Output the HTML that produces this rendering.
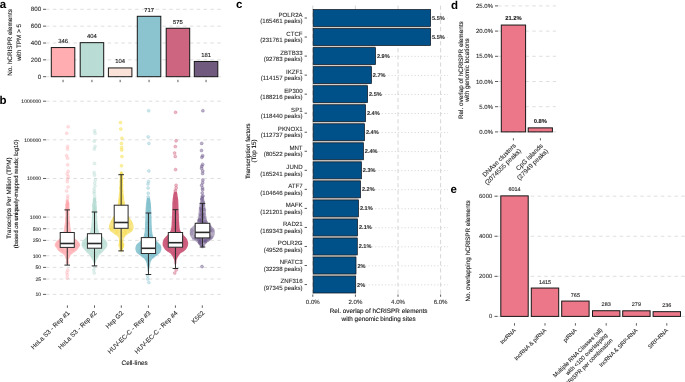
<!DOCTYPE html>
<html><head><meta charset="utf-8"><style>
html,body{margin:0;padding:0;background:#fff;width:685px;height:382px;overflow:hidden}
svg{display:block;font-family:"Liberation Sans",sans-serif;text-rendering:geometricPrecision;filter:blur(0.3px)}
</style></head><body>
<svg width="685" height="382" viewBox="0 0 685 382">
<rect width="685" height="382" fill="#fff"/>
<text x="-0.3" y="7.8" font-size="11.5" font-weight="bold" fill="#000">a</text>
<line x1="46" y1="76.70" x2="221" y2="76.70" stroke="#d6d6d6" stroke-width="0.8" stroke-dasharray="3.5 3.35"/>
<line x1="46" y1="59.85" x2="221" y2="59.85" stroke="#d6d6d6" stroke-width="0.8" stroke-dasharray="3.5 3.35"/>
<line x1="46" y1="43.00" x2="221" y2="43.00" stroke="#d6d6d6" stroke-width="0.8" stroke-dasharray="3.5 3.35"/>
<line x1="46" y1="26.15" x2="221" y2="26.15" stroke="#d6d6d6" stroke-width="0.8" stroke-dasharray="3.5 3.35"/>
<line x1="46" y1="9.30" x2="221" y2="9.30" stroke="#d6d6d6" stroke-width="0.8" stroke-dasharray="3.5 3.35"/>
<text x="41.20" y="78.87" font-size="6.2" text-anchor="end" fill="#2e2e2e" font-weight="normal" stroke="#2e2e2e" stroke-width="0.1" >0</text>
<line x1="43" y1="76.70" x2="46" y2="76.70" stroke="#333333" stroke-width="0.8"/>
<text x="41.20" y="62.02" font-size="6.2" text-anchor="end" fill="#2e2e2e" font-weight="normal" stroke="#2e2e2e" stroke-width="0.1" >200</text>
<line x1="43" y1="59.85" x2="46" y2="59.85" stroke="#333333" stroke-width="0.8"/>
<text x="41.20" y="45.17" font-size="6.2" text-anchor="end" fill="#2e2e2e" font-weight="normal" stroke="#2e2e2e" stroke-width="0.1" >400</text>
<line x1="43" y1="43.00" x2="46" y2="43.00" stroke="#333333" stroke-width="0.8"/>
<text x="41.20" y="28.32" font-size="6.2" text-anchor="end" fill="#2e2e2e" font-weight="normal" stroke="#2e2e2e" stroke-width="0.1" >600</text>
<line x1="43" y1="26.15" x2="46" y2="26.15" stroke="#333333" stroke-width="0.8"/>
<text x="41.20" y="11.47" font-size="6.2" text-anchor="end" fill="#2e2e2e" font-weight="normal" stroke="#2e2e2e" stroke-width="0.1" >800</text>
<line x1="43" y1="9.30" x2="46" y2="9.30" stroke="#333333" stroke-width="0.8"/>
<rect x="51.30" y="47.55" width="23.50" height="29.15" fill="#ffadb0" stroke="#161616" stroke-width="1.0"/>
<text x="63.05" y="42.85" font-size="5.9" text-anchor="middle" fill="#111111" font-weight="normal" stroke="#111111" stroke-width="0.1" >346</text>
<line x1="63.05" y1="79.8" x2="63.05" y2="82.2" stroke="#333333" stroke-width="0.8"/>
<rect x="80.20" y="42.66" width="23.50" height="34.04" fill="#b9ddd4" stroke="#161616" stroke-width="1.0"/>
<text x="91.95" y="37.96" font-size="5.9" text-anchor="middle" fill="#111111" font-weight="normal" stroke="#111111" stroke-width="0.1" >404</text>
<line x1="91.95" y1="79.8" x2="91.95" y2="82.2" stroke="#333333" stroke-width="0.8"/>
<rect x="108.40" y="67.94" width="23.50" height="8.76" fill="#fae2d8" stroke="#161616" stroke-width="1.0"/>
<text x="120.15" y="63.24" font-size="5.9" text-anchor="middle" fill="#111111" font-weight="normal" stroke="#111111" stroke-width="0.1" >104</text>
<line x1="120.15" y1="79.8" x2="120.15" y2="82.2" stroke="#333333" stroke-width="0.8"/>
<rect x="137.30" y="16.29" width="23.50" height="60.41" fill="#8bc3cf" stroke="#161616" stroke-width="1.0"/>
<text x="149.05" y="11.59" font-size="5.9" text-anchor="middle" fill="#111111" font-weight="normal" stroke="#111111" stroke-width="0.1" >717</text>
<line x1="149.05" y1="79.8" x2="149.05" y2="82.2" stroke="#333333" stroke-width="0.8"/>
<rect x="166.20" y="28.26" width="23.50" height="48.44" fill="#ce6580" stroke="#161616" stroke-width="1.0"/>
<text x="177.95" y="23.56" font-size="5.9" text-anchor="middle" fill="#111111" font-weight="normal" stroke="#111111" stroke-width="0.1" >575</text>
<line x1="177.95" y1="79.8" x2="177.95" y2="82.2" stroke="#333333" stroke-width="0.8"/>
<rect x="194.30" y="61.45" width="23.50" height="15.25" fill="#705a7d" stroke="#161616" stroke-width="1.0"/>
<text x="206.05" y="56.75" font-size="5.9" text-anchor="middle" fill="#111111" font-weight="normal" stroke="#111111" stroke-width="0.1" >181</text>
<line x1="206.05" y1="79.8" x2="206.05" y2="82.2" stroke="#333333" stroke-width="0.8"/>
<g transform="translate(12.20,42.50) rotate(-90)">
<text x="0" y="0.00" font-size="6.35" text-anchor="middle" fill="#111111" stroke="#111111" stroke-width="0.1">No. hCRISPR elements</text>
</g>
<g transform="translate(21.00,42.50) rotate(-90)">
<text x="0" y="0.00" font-size="6.35" text-anchor="middle" fill="#111111" stroke="#111111" stroke-width="0.1">with TPM &gt; 5</text>
</g>
<text x="-0.6" y="104.2" font-size="11.5" font-weight="bold" fill="#000">b</text>
<line x1="46" y1="294.40" x2="221" y2="294.40" stroke="#d6d6d6" stroke-width="0.8" stroke-dasharray="3.5 3.35"/>
<line x1="46" y1="279.02" x2="221" y2="279.02" stroke="#d6d6d6" stroke-width="0.8" stroke-dasharray="3.5 3.35"/>
<line x1="46" y1="267.39" x2="221" y2="267.39" stroke="#d6d6d6" stroke-width="0.8" stroke-dasharray="3.5 3.35"/>
<line x1="46" y1="255.76" x2="221" y2="255.76" stroke="#d6d6d6" stroke-width="0.8" stroke-dasharray="3.5 3.35"/>
<line x1="46" y1="240.38" x2="221" y2="240.38" stroke="#d6d6d6" stroke-width="0.8" stroke-dasharray="3.5 3.35"/>
<line x1="46" y1="228.75" x2="221" y2="228.75" stroke="#d6d6d6" stroke-width="0.8" stroke-dasharray="3.5 3.35"/>
<line x1="46" y1="217.12" x2="221" y2="217.12" stroke="#d6d6d6" stroke-width="0.8" stroke-dasharray="3.5 3.35"/>
<line x1="46" y1="178.48" x2="221" y2="178.48" stroke="#d6d6d6" stroke-width="0.8" stroke-dasharray="3.5 3.35"/>
<line x1="46" y1="139.84" x2="221" y2="139.84" stroke="#d6d6d6" stroke-width="0.8" stroke-dasharray="3.5 3.35"/>
<line x1="46" y1="101.20" x2="221" y2="101.20" stroke="#d6d6d6" stroke-width="0.8" stroke-dasharray="3.5 3.35"/>
<text x="41.20" y="296.19" font-size="5.1" text-anchor="end" fill="#2e2e2e" font-weight="normal" stroke="#2e2e2e" stroke-width="0.1" >10</text>
<line x1="43" y1="294.40" x2="46" y2="294.40" stroke="#333333" stroke-width="0.8"/>
<text x="41.20" y="280.81" font-size="5.1" text-anchor="end" fill="#2e2e2e" font-weight="normal" stroke="#2e2e2e" stroke-width="0.1" >25</text>
<line x1="43" y1="279.02" x2="46" y2="279.02" stroke="#333333" stroke-width="0.8"/>
<text x="41.20" y="269.18" font-size="5.1" text-anchor="end" fill="#2e2e2e" font-weight="normal" stroke="#2e2e2e" stroke-width="0.1" >50</text>
<line x1="43" y1="267.39" x2="46" y2="267.39" stroke="#333333" stroke-width="0.8"/>
<text x="41.20" y="257.55" font-size="5.1" text-anchor="end" fill="#2e2e2e" font-weight="normal" stroke="#2e2e2e" stroke-width="0.1" >100</text>
<line x1="43" y1="255.76" x2="46" y2="255.76" stroke="#333333" stroke-width="0.8"/>
<text x="41.20" y="242.17" font-size="5.1" text-anchor="end" fill="#2e2e2e" font-weight="normal" stroke="#2e2e2e" stroke-width="0.1" >250</text>
<line x1="43" y1="240.38" x2="46" y2="240.38" stroke="#333333" stroke-width="0.8"/>
<text x="41.20" y="230.54" font-size="5.1" text-anchor="end" fill="#2e2e2e" font-weight="normal" stroke="#2e2e2e" stroke-width="0.1" >500</text>
<line x1="43" y1="228.75" x2="46" y2="228.75" stroke="#333333" stroke-width="0.8"/>
<text x="41.20" y="218.90" font-size="5.1" text-anchor="end" fill="#2e2e2e" font-weight="normal" stroke="#2e2e2e" stroke-width="0.1" >1000</text>
<line x1="43" y1="217.12" x2="46" y2="217.12" stroke="#333333" stroke-width="0.8"/>
<text x="41.20" y="180.26" font-size="5.1" text-anchor="end" fill="#2e2e2e" font-weight="normal" stroke="#2e2e2e" stroke-width="0.1" >10000</text>
<line x1="43" y1="178.48" x2="46" y2="178.48" stroke="#333333" stroke-width="0.8"/>
<text x="41.20" y="141.62" font-size="5.1" text-anchor="end" fill="#2e2e2e" font-weight="normal" stroke="#2e2e2e" stroke-width="0.1" >100000</text>
<line x1="43" y1="139.84" x2="46" y2="139.84" stroke="#333333" stroke-width="0.8"/>
<text x="41.20" y="102.98" font-size="5.1" text-anchor="end" fill="#2e2e2e" font-weight="normal" stroke="#2e2e2e" stroke-width="0.1" >1000000</text>
<line x1="43" y1="101.20" x2="46" y2="101.20" stroke="#333333" stroke-width="0.8"/>
<polygon points="68.20,200.00 68.34,200.52 68.56,201.22 68.80,202.06 69.04,203.00 69.26,203.99 69.40,205.00 69.47,206.04 69.48,207.15 69.46,208.31 69.42,209.52 69.40,210.75 69.40,212.00 69.43,213.29 69.46,214.63 69.51,216.00 69.56,217.37 69.62,218.71 69.70,220.00 69.79,221.25 69.89,222.48 70.01,223.69 70.13,224.85 70.26,225.96 70.40,227.00 70.54,227.96 70.69,228.85 70.85,229.69 71.02,230.48 71.20,231.25 71.40,232.00 71.61,232.74 71.83,233.44 72.06,234.12 72.31,234.78 72.59,235.40 72.90,236.00 73.26,236.57 73.66,237.11 74.08,237.62 74.52,238.10 74.97,238.56 75.40,239.00 75.84,239.40 76.30,239.77 76.77,240.12 77.22,240.45 77.63,240.77 78.00,241.10 78.31,241.42 78.58,241.73 78.82,242.02 79.03,242.33 79.22,242.65 79.40,243.00 79.58,243.38 79.77,243.79 79.94,244.21 80.07,244.64 80.13,245.08 80.10,245.50 79.96,245.91 79.73,246.31 79.44,246.72 79.10,247.13 78.75,247.55 78.40,248.00 78.08,248.46 77.78,248.94 77.46,249.42 77.09,249.93 76.65,250.45 76.10,251.00 75.39,251.58 74.52,252.18 73.58,252.81 72.64,253.44 71.79,254.08 71.10,254.70 70.59,255.32 70.20,255.94 69.90,256.56 69.65,257.17 69.43,257.79 69.20,258.40 68.98,259.01 68.78,259.63 68.61,260.24 68.46,260.85 68.33,261.44 68.20,262.00 68.08,262.57 67.98,263.16 67.89,263.73 67.81,264.24 67.75,264.68 67.70,265.00 67.10,265.00 67.05,264.68 66.99,264.24 66.91,263.73 66.82,263.16 66.72,262.57 66.60,262.00 66.47,261.44 66.34,260.85 66.19,260.24 66.02,259.63 65.82,259.01 65.60,258.40 65.37,257.79 65.15,257.17 64.90,256.56 64.60,255.94 64.21,255.32 63.70,254.70 63.01,254.08 62.16,253.44 61.23,252.81 60.28,252.18 59.41,251.58 58.70,251.00 58.15,250.45 57.71,249.93 57.34,249.42 57.02,248.94 56.72,248.46 56.40,248.00 56.05,247.55 55.70,247.13 55.36,246.72 55.07,246.31 54.84,245.91 54.70,245.50 54.67,245.08 54.73,244.64 54.86,244.21 55.03,243.79 55.22,243.38 55.40,243.00 55.58,242.65 55.77,242.33 55.98,242.02 56.22,241.73 56.49,241.42 56.80,241.10 57.17,240.77 57.58,240.45 58.03,240.12 58.50,239.77 58.96,239.40 59.40,239.00 59.83,238.56 60.28,238.10 60.72,237.62 61.14,237.11 61.54,236.57 61.90,236.00 62.21,235.40 62.49,234.78 62.74,234.12 62.97,233.44 63.19,232.74 63.40,232.00 63.60,231.25 63.78,230.48 63.95,229.69 64.11,228.85 64.26,227.96 64.40,227.00 64.54,225.96 64.67,224.85 64.79,223.69 64.91,222.48 65.01,221.25 65.10,220.00 65.18,218.71 65.24,217.37 65.29,216.00 65.34,214.63 65.37,213.29 65.40,212.00 65.40,210.75 65.38,209.52 65.34,208.31 65.32,207.15 65.33,206.04 65.40,205.00 65.54,203.99 65.76,203.00 66.00,202.06 66.24,201.22 66.46,200.52 66.60,200.00" fill="#ffadb0" fill-opacity="0.8" stroke="none"/>
<polygon points="95.70,198.00 95.82,198.76 95.99,199.81 96.19,201.06 96.39,202.41 96.57,203.75 96.70,205.00 96.78,206.15 96.82,207.27 96.84,208.39 96.85,209.54 96.86,210.73 96.90,212.00 96.95,213.36 97.00,214.80 97.06,216.29 97.13,217.80 97.21,219.28 97.30,220.70 97.40,222.09 97.50,223.49 97.61,224.86 97.74,226.18 97.90,227.44 98.10,228.60 98.35,229.68 98.65,230.71 98.97,231.67 99.32,232.54 99.66,233.33 100.00,234.00 100.32,234.52 100.64,234.88 100.96,235.15 101.29,235.39 101.64,235.65 102.00,236.00 102.40,236.45 102.82,236.96 103.26,237.50 103.70,238.04 104.12,238.55 104.50,239.00 104.85,239.37 105.17,239.67 105.48,239.94 105.77,240.22 106.04,240.56 106.30,241.00 106.57,241.56 106.84,242.22 107.11,242.94 107.32,243.67 107.46,244.37 107.50,245.00 107.43,245.54 107.27,246.03 107.04,246.49 106.75,246.95 106.40,247.44 106.00,248.00 105.53,248.65 104.96,249.36 104.34,250.11 103.70,250.86 103.08,251.57 102.50,252.20 101.95,252.75 101.40,253.26 100.86,253.72 100.36,254.16 99.90,254.58 99.50,255.00 99.20,255.38 98.98,255.72 98.81,256.04 98.64,256.37 98.45,256.75 98.20,257.20 97.86,257.74 97.46,258.34 97.03,258.99 96.61,259.66 96.22,260.34 95.90,261.00 95.65,261.70 95.43,262.47 95.26,263.24 95.11,263.96 94.99,264.56 94.90,265.00 94.10,265.00 94.01,264.56 93.89,263.96 93.74,263.24 93.57,262.47 93.35,261.70 93.10,261.00 92.78,260.34 92.39,259.66 91.97,258.99 91.54,258.34 91.14,257.74 90.80,257.20 90.55,256.75 90.36,256.37 90.19,256.04 90.02,255.72 89.80,255.38 89.50,255.00 89.10,254.58 88.64,254.16 88.14,253.72 87.60,253.26 87.05,252.75 86.50,252.20 85.92,251.57 85.30,250.86 84.66,250.11 84.04,249.36 83.47,248.65 83.00,248.00 82.60,247.44 82.25,246.95 81.96,246.49 81.73,246.03 81.57,245.54 81.50,245.00 81.54,244.37 81.68,243.67 81.89,242.94 82.16,242.22 82.43,241.56 82.70,241.00 82.96,240.56 83.23,240.22 83.52,239.94 83.83,239.67 84.15,239.37 84.50,239.00 84.88,238.55 85.30,238.04 85.74,237.50 86.18,236.96 86.60,236.45 87.00,236.00 87.36,235.65 87.71,235.39 88.04,235.15 88.36,234.88 88.68,234.52 89.00,234.00 89.34,233.33 89.68,232.54 90.03,231.67 90.35,230.71 90.65,229.68 90.90,228.60 91.10,227.44 91.26,226.18 91.39,224.86 91.50,223.49 91.60,222.09 91.70,220.70 91.79,219.28 91.87,217.80 91.94,216.29 92.00,214.80 92.05,213.36 92.10,212.00 92.14,210.73 92.15,209.54 92.16,208.39 92.18,207.27 92.22,206.15 92.30,205.00 92.43,203.75 92.61,202.41 92.81,201.06 93.01,199.81 93.18,198.76 93.30,198.00" fill="#b9ddd4" fill-opacity="0.8" stroke="none"/>
<polygon points="121.90,172.00 122.00,172.58 122.15,173.33 122.32,174.25 122.50,175.33 122.66,176.58 122.80,178.00 122.90,179.68 122.98,181.64 123.04,183.77 123.11,185.95 123.19,188.06 123.30,190.00 123.44,191.79 123.60,193.53 123.77,195.21 123.95,196.80 124.13,198.31 124.30,199.70 124.46,200.93 124.60,201.99 124.74,202.96 124.89,203.90 125.08,204.89 125.30,206.00 125.56,207.27 125.86,208.67 126.17,210.11 126.52,211.52 126.90,212.84 127.30,214.00 127.75,214.98 128.26,215.83 128.80,216.59 129.34,217.28 129.85,217.94 130.30,218.60 130.70,219.22 131.06,219.76 131.40,220.27 131.71,220.79 132.01,221.35 132.30,222.00 132.60,222.75 132.91,223.59 133.21,224.46 133.46,225.35 133.64,226.21 133.70,227.00 133.66,227.74 133.54,228.44 133.34,229.12 133.06,229.78 132.72,230.40 132.30,231.00 131.78,231.55 131.16,232.06 130.46,232.54 129.73,233.01 129.00,233.49 128.30,234.00 127.60,234.53 126.86,235.06 126.11,235.60 125.41,236.16 124.79,236.76 124.30,237.40 123.94,238.11 123.67,238.89 123.49,239.71 123.37,240.52 123.32,241.29 123.30,242.00 123.38,242.62 123.59,243.17 123.85,243.69 124.10,244.20 124.27,244.73 124.30,245.30 124.15,245.94 123.87,246.63 123.52,247.34 123.14,248.03 122.78,248.66 122.50,249.20 122.29,249.64 122.10,250.02 121.94,250.34 121.80,250.61 121.69,250.83 121.60,251.00 121.00,251.00 120.91,250.83 120.80,250.61 120.66,250.34 120.50,250.02 120.31,249.64 120.10,249.20 119.82,248.66 119.46,248.03 119.08,247.34 118.73,246.63 118.45,245.94 118.30,245.30 118.33,244.73 118.50,244.20 118.75,243.69 119.01,243.17 119.22,242.62 119.30,242.00 119.28,241.29 119.23,240.52 119.11,239.71 118.93,238.89 118.66,238.11 118.30,237.40 117.81,236.76 117.19,236.16 116.49,235.60 115.74,235.06 115.00,234.53 114.30,234.00 113.60,233.49 112.87,233.01 112.14,232.54 111.44,232.06 110.82,231.55 110.30,231.00 109.88,230.40 109.54,229.78 109.26,229.12 109.06,228.44 108.94,227.74 108.90,227.00 108.96,226.21 109.14,225.35 109.39,224.46 109.69,223.59 110.00,222.75 110.30,222.00 110.59,221.35 110.89,220.79 111.20,220.27 111.54,219.76 111.90,219.22 112.30,218.60 112.75,217.94 113.26,217.28 113.80,216.59 114.34,215.83 114.85,214.98 115.30,214.00 115.70,212.84 116.08,211.52 116.42,210.11 116.74,208.67 117.04,207.27 117.30,206.00 117.52,204.89 117.71,203.90 117.86,202.96 118.00,201.99 118.14,200.93 118.30,199.70 118.47,198.31 118.65,196.80 118.83,195.21 119.00,193.53 119.16,191.79 119.30,190.00 119.41,188.06 119.49,185.95 119.56,183.77 119.62,181.64 119.70,179.68 119.80,178.00 119.94,176.58 120.10,175.33 120.28,174.25 120.45,173.33 120.60,172.58 120.70,172.00" fill="#f5dc55" fill-opacity="0.7" stroke="none"/>
<polygon points="149.90,198.00 150.01,198.73 150.18,199.70 150.37,200.88 150.57,202.19 150.75,203.58 150.90,205.00 151.01,206.49 151.11,208.11 151.19,209.81 151.27,211.56 151.33,213.30 151.40,215.00 151.46,216.70 151.51,218.44 151.55,220.19 151.59,221.89 151.64,223.51 151.70,225.00 151.76,226.36 151.83,227.63 151.89,228.81 151.97,229.93 152.07,230.98 152.20,232.00 152.34,232.96 152.48,233.85 152.64,234.69 152.84,235.48 153.09,236.25 153.40,237.00 153.78,237.73 154.23,238.41 154.72,239.08 155.26,239.72 155.82,240.36 156.40,241.00 157.04,241.64 157.77,242.27 158.53,242.89 159.25,243.51 159.90,244.15 160.40,244.80 160.77,245.48 161.05,246.18 161.24,246.89 161.36,247.60 161.41,248.31 161.40,249.00 161.32,249.69 161.18,250.39 160.96,251.07 160.68,251.75 160.32,252.39 159.90,253.00 159.37,253.56 158.73,254.07 158.03,254.56 157.29,255.04 156.57,255.51 155.90,256.00 155.27,256.50 154.63,257.00 154.01,257.50 153.42,258.00 152.88,258.50 152.40,259.00 151.99,259.48 151.65,259.93 151.35,260.39 151.09,260.87 150.84,261.40 150.60,262.00 150.37,262.69 150.16,263.45 149.97,264.26 149.80,265.10 149.65,265.96 149.50,266.80 149.36,267.70 149.24,268.70 149.13,269.70 149.04,270.64 148.96,271.43 148.90,272.00 147.90,272.00 147.84,271.43 147.76,270.64 147.67,269.70 147.56,268.70 147.44,267.70 147.30,266.80 147.15,265.96 147.00,265.10 146.83,264.26 146.64,263.45 146.43,262.69 146.20,262.00 145.96,261.40 145.71,260.87 145.45,260.39 145.15,259.93 144.81,259.48 144.40,259.00 143.92,258.50 143.38,258.00 142.79,257.50 142.17,257.00 141.53,256.50 140.90,256.00 140.23,255.51 139.51,255.04 138.78,254.56 138.07,254.07 137.43,253.56 136.90,253.00 136.48,252.39 136.12,251.75 135.84,251.07 135.62,250.39 135.48,249.69 135.40,249.00 135.39,248.31 135.44,247.60 135.56,246.89 135.75,246.18 136.03,245.48 136.40,244.80 136.90,244.15 137.55,243.51 138.28,242.89 139.03,242.27 139.76,241.64 140.40,241.00 140.98,240.36 141.54,239.72 142.08,239.08 142.57,238.41 143.02,237.73 143.40,237.00 143.71,236.25 143.96,235.48 144.16,234.69 144.32,233.85 144.46,232.96 144.60,232.00 144.73,230.98 144.83,229.93 144.91,228.81 144.97,227.63 145.04,226.36 145.10,225.00 145.16,223.51 145.21,221.89 145.25,220.19 145.29,218.44 145.34,216.70 145.40,215.00 145.47,213.30 145.53,211.56 145.61,209.81 145.69,208.11 145.79,206.49 145.90,205.00 146.05,203.58 146.23,202.19 146.43,200.88 146.62,199.70 146.79,198.73 146.90,198.00" fill="#7fbfcc" fill-opacity="0.85" stroke="none"/>
<polygon points="176.90,192.00 177.05,192.85 177.27,194.00 177.53,195.38 177.79,196.89 178.02,198.46 178.20,200.00 178.32,201.55 178.40,203.19 178.46,204.88 178.50,206.59 178.54,208.31 178.60,210.00 178.66,211.69 178.73,213.41 178.79,215.12 178.85,216.81 178.92,218.45 179.00,220.00 179.08,221.50 179.16,222.96 179.24,224.38 179.34,225.70 179.46,226.92 179.60,228.00 179.75,228.90 179.90,229.63 180.07,230.25 180.28,230.81 180.55,231.38 180.90,232.00 181.37,232.68 181.94,233.37 182.58,234.06 183.23,234.74 183.85,235.39 184.40,236.00 184.89,236.55 185.35,237.04 185.79,237.50 186.19,237.96 186.56,238.45 186.90,239.00 187.21,239.61 187.50,240.26 187.76,240.94 187.97,241.63 188.12,242.32 188.20,243.00 188.21,243.67 188.16,244.35 188.04,245.03 187.88,245.70 187.66,246.36 187.40,247.00 187.09,247.62 186.73,248.22 186.33,248.81 185.87,249.39 185.36,249.95 184.80,250.50 184.15,251.02 183.40,251.52 182.59,252.00 181.79,252.48 181.04,252.98 180.40,253.50 179.86,254.06 179.38,254.65 178.96,255.25 178.57,255.85 178.23,256.44 177.90,257.00 177.61,257.51 177.36,257.96 177.14,258.41 176.95,258.87 176.77,259.39 176.60,260.00 176.43,260.78 176.27,261.70 176.12,262.69 175.99,263.63 175.88,264.43 175.80,265.00 175.00,265.00 174.92,264.43 174.81,263.63 174.68,262.69 174.53,261.70 174.37,260.78 174.20,260.00 174.03,259.39 173.85,258.87 173.66,258.41 173.44,257.96 173.19,257.51 172.90,257.00 172.57,256.44 172.23,255.85 171.84,255.25 171.42,254.65 170.94,254.06 170.40,253.50 169.76,252.98 169.01,252.48 168.21,252.00 167.40,251.52 166.65,251.02 166.00,250.50 165.44,249.95 164.93,249.39 164.47,248.81 164.07,248.22 163.71,247.62 163.40,247.00 163.14,246.36 162.92,245.70 162.76,245.03 162.64,244.35 162.59,243.67 162.60,243.00 162.68,242.32 162.83,241.63 163.04,240.94 163.30,240.26 163.59,239.61 163.90,239.00 164.24,238.45 164.61,237.96 165.01,237.50 165.45,237.04 165.91,236.55 166.40,236.00 166.95,235.39 167.57,234.74 168.22,234.06 168.86,233.37 169.43,232.68 169.90,232.00 170.25,231.38 170.52,230.81 170.73,230.25 170.90,229.63 171.05,228.90 171.20,228.00 171.34,226.92 171.46,225.70 171.56,224.38 171.64,222.96 171.72,221.50 171.80,220.00 171.88,218.45 171.95,216.81 172.01,215.12 172.07,213.41 172.14,211.69 172.20,210.00 172.26,208.31 172.30,206.59 172.34,204.88 172.40,203.19 172.48,201.55 172.60,200.00 172.78,198.46 173.01,196.89 173.28,195.38 173.53,194.00 173.75,192.85 173.90,192.00" fill="#cc5a7a" fill-opacity="0.95" stroke="none"/>
<polygon points="203.80,196.00 203.91,196.76 204.06,197.81 204.24,199.06 204.43,200.41 204.62,201.75 204.80,203.00 204.97,204.17 205.15,205.33 205.33,206.50 205.50,207.67 205.66,208.83 205.80,210.00 205.90,211.19 205.97,212.41 206.02,213.62 206.08,214.81 206.16,215.95 206.30,217.00 206.47,217.96 206.65,218.85 206.86,219.69 207.11,220.48 207.42,221.25 207.80,222.00 208.27,222.74 208.84,223.44 209.46,224.12 210.10,224.78 210.72,225.40 211.30,226.00 211.86,226.55 212.43,227.04 212.99,227.50 213.50,227.96 213.95,228.45 214.30,229.00 214.55,229.61 214.71,230.26 214.80,230.94 214.84,231.63 214.83,232.32 214.80,233.00 214.75,233.67 214.67,234.36 214.55,235.04 214.37,235.72 214.13,236.37 213.80,237.00 213.36,237.60 212.82,238.17 212.21,238.73 211.56,239.27 210.91,239.79 210.30,240.30 209.71,240.78 209.10,241.23 208.49,241.67 207.89,242.10 207.33,242.54 206.80,243.00 206.32,243.49 205.86,244.01 205.43,244.54 205.03,245.06 204.65,245.55 204.30,246.00 203.96,246.41 203.64,246.81 203.34,247.19 203.08,247.52 202.86,247.79 202.70,248.00 201.90,248.00 201.74,247.79 201.52,247.52 201.26,247.19 200.96,246.81 200.64,246.41 200.30,246.00 199.95,245.55 199.57,245.06 199.17,244.54 198.74,244.01 198.28,243.49 197.80,243.00 197.27,242.54 196.71,242.10 196.11,241.67 195.50,241.23 194.89,240.78 194.30,240.30 193.69,239.79 193.04,239.27 192.39,238.73 191.78,238.17 191.24,237.60 190.80,237.00 190.47,236.37 190.23,235.72 190.05,235.04 189.93,234.36 189.85,233.67 189.80,233.00 189.77,232.32 189.76,231.63 189.80,230.94 189.89,230.26 190.05,229.61 190.30,229.00 190.65,228.45 191.10,227.96 191.61,227.50 192.17,227.04 192.74,226.55 193.30,226.00 193.88,225.40 194.50,224.78 195.14,224.12 195.76,223.44 196.33,222.74 196.80,222.00 197.18,221.25 197.49,220.48 197.74,219.69 197.95,218.85 198.13,217.96 198.30,217.00 198.44,215.95 198.52,214.81 198.58,213.62 198.63,212.41 198.70,211.19 198.80,210.00 198.94,208.83 199.10,207.67 199.27,206.50 199.45,205.33 199.63,204.17 199.80,203.00 199.98,201.75 200.17,200.41 200.36,199.06 200.54,197.81 200.69,196.76 200.80,196.00" fill="#6e5a8a" fill-opacity="0.5" stroke="none"/>
<circle cx="69.29" cy="238.21" r="1.4" fill="#ff9ca2" fill-opacity="0.11" stroke="#ff9ca2" stroke-opacity="0.18" stroke-width="0.6"/>
<circle cx="67.20" cy="213.32" r="1.4" fill="#ff9ca2" fill-opacity="0.11" stroke="#ff9ca2" stroke-opacity="0.18" stroke-width="0.6"/>
<circle cx="66.73" cy="209.53" r="1.4" fill="#ff9ca2" fill-opacity="0.11" stroke="#ff9ca2" stroke-opacity="0.18" stroke-width="0.6"/>
<circle cx="59.79" cy="240.67" r="1.4" fill="#ff9ca2" fill-opacity="0.11" stroke="#ff9ca2" stroke-opacity="0.18" stroke-width="0.6"/>
<circle cx="60.40" cy="241.43" r="1.4" fill="#ff9ca2" fill-opacity="0.11" stroke="#ff9ca2" stroke-opacity="0.18" stroke-width="0.6"/>
<circle cx="70.41" cy="234.25" r="1.4" fill="#ff9ca2" fill-opacity="0.11" stroke="#ff9ca2" stroke-opacity="0.18" stroke-width="0.6"/>
<circle cx="78.11" cy="244.11" r="1.4" fill="#ff9ca2" fill-opacity="0.11" stroke="#ff9ca2" stroke-opacity="0.18" stroke-width="0.6"/>
<circle cx="67.08" cy="208.67" r="1.4" fill="#ff9ca2" fill-opacity="0.11" stroke="#ff9ca2" stroke-opacity="0.18" stroke-width="0.6"/>
<circle cx="66.80" cy="225.58" r="1.4" fill="#ff9ca2" fill-opacity="0.11" stroke="#ff9ca2" stroke-opacity="0.18" stroke-width="0.6"/>
<circle cx="68.77" cy="249.61" r="1.4" fill="#ff9ca2" fill-opacity="0.11" stroke="#ff9ca2" stroke-opacity="0.18" stroke-width="0.6"/>
<circle cx="68.49" cy="245.37" r="1.4" fill="#ff9ca2" fill-opacity="0.11" stroke="#ff9ca2" stroke-opacity="0.18" stroke-width="0.6"/>
<circle cx="66.99" cy="210.31" r="1.4" fill="#ff9ca2" fill-opacity="0.11" stroke="#ff9ca2" stroke-opacity="0.18" stroke-width="0.6"/>
<circle cx="63.30" cy="246.24" r="1.4" fill="#ff9ca2" fill-opacity="0.11" stroke="#ff9ca2" stroke-opacity="0.18" stroke-width="0.6"/>
<circle cx="62.90" cy="244.17" r="1.4" fill="#ff9ca2" fill-opacity="0.11" stroke="#ff9ca2" stroke-opacity="0.18" stroke-width="0.6"/>
<circle cx="62.92" cy="249.62" r="1.4" fill="#ff9ca2" fill-opacity="0.11" stroke="#ff9ca2" stroke-opacity="0.18" stroke-width="0.6"/>
<circle cx="75.71" cy="243.81" r="1.4" fill="#ff9ca2" fill-opacity="0.11" stroke="#ff9ca2" stroke-opacity="0.18" stroke-width="0.6"/>
<circle cx="77.05" cy="247.34" r="1.4" fill="#ff9ca2" fill-opacity="0.11" stroke="#ff9ca2" stroke-opacity="0.18" stroke-width="0.6"/>
<circle cx="68.01" cy="222.40" r="1.4" fill="#ff9ca2" fill-opacity="0.11" stroke="#ff9ca2" stroke-opacity="0.18" stroke-width="0.6"/>
<circle cx="65.83" cy="226.99" r="1.4" fill="#ff9ca2" fill-opacity="0.11" stroke="#ff9ca2" stroke-opacity="0.18" stroke-width="0.6"/>
<circle cx="69.01" cy="246.58" r="1.4" fill="#ff9ca2" fill-opacity="0.11" stroke="#ff9ca2" stroke-opacity="0.18" stroke-width="0.6"/>
<circle cx="69.67" cy="252.00" r="1.4" fill="#ff9ca2" fill-opacity="0.11" stroke="#ff9ca2" stroke-opacity="0.18" stroke-width="0.6"/>
<circle cx="66.40" cy="244.72" r="1.4" fill="#ff9ca2" fill-opacity="0.11" stroke="#ff9ca2" stroke-opacity="0.18" stroke-width="0.6"/>
<circle cx="67.02" cy="251.44" r="1.4" fill="#ff9ca2" fill-opacity="0.11" stroke="#ff9ca2" stroke-opacity="0.18" stroke-width="0.6"/>
<circle cx="71.94" cy="245.47" r="1.4" fill="#ff9ca2" fill-opacity="0.11" stroke="#ff9ca2" stroke-opacity="0.18" stroke-width="0.6"/>
<circle cx="74.74" cy="245.99" r="1.4" fill="#ff9ca2" fill-opacity="0.11" stroke="#ff9ca2" stroke-opacity="0.18" stroke-width="0.6"/>
<circle cx="69.07" cy="236.99" r="1.4" fill="#ff9ca2" fill-opacity="0.11" stroke="#ff9ca2" stroke-opacity="0.18" stroke-width="0.6"/>
<circle cx="67.03" cy="203.95" r="1.4" fill="#ff9ca2" fill-opacity="0.11" stroke="#ff9ca2" stroke-opacity="0.18" stroke-width="0.6"/>
<circle cx="68.04" cy="222.04" r="1.4" fill="#ff9ca2" fill-opacity="0.11" stroke="#ff9ca2" stroke-opacity="0.18" stroke-width="0.6"/>
<circle cx="67.12" cy="223.44" r="1.4" fill="#ff9ca2" fill-opacity="0.11" stroke="#ff9ca2" stroke-opacity="0.18" stroke-width="0.6"/>
<circle cx="66.81" cy="251.76" r="1.4" fill="#ff9ca2" fill-opacity="0.11" stroke="#ff9ca2" stroke-opacity="0.18" stroke-width="0.6"/>
<circle cx="74.35" cy="243.77" r="1.4" fill="#ff9ca2" fill-opacity="0.11" stroke="#ff9ca2" stroke-opacity="0.18" stroke-width="0.6"/>
<circle cx="66.41" cy="251.96" r="1.4" fill="#ff9ca2" fill-opacity="0.11" stroke="#ff9ca2" stroke-opacity="0.18" stroke-width="0.6"/>
<circle cx="74.36" cy="240.16" r="1.4" fill="#ff9ca2" fill-opacity="0.11" stroke="#ff9ca2" stroke-opacity="0.18" stroke-width="0.6"/>
<circle cx="66.49" cy="226.68" r="1.4" fill="#ff9ca2" fill-opacity="0.11" stroke="#ff9ca2" stroke-opacity="0.18" stroke-width="0.6"/>
<circle cx="68.04" cy="234.76" r="1.4" fill="#ff9ca2" fill-opacity="0.11" stroke="#ff9ca2" stroke-opacity="0.18" stroke-width="0.6"/>
<circle cx="66.72" cy="235.50" r="1.4" fill="#ff9ca2" fill-opacity="0.11" stroke="#ff9ca2" stroke-opacity="0.18" stroke-width="0.6"/>
<circle cx="74.29" cy="239.84" r="1.4" fill="#ff9ca2" fill-opacity="0.11" stroke="#ff9ca2" stroke-opacity="0.18" stroke-width="0.6"/>
<circle cx="69.93" cy="246.73" r="1.4" fill="#ff9ca2" fill-opacity="0.11" stroke="#ff9ca2" stroke-opacity="0.18" stroke-width="0.6"/>
<circle cx="76.22" cy="245.87" r="1.4" fill="#ff9ca2" fill-opacity="0.11" stroke="#ff9ca2" stroke-opacity="0.18" stroke-width="0.6"/>
<circle cx="72.81" cy="249.31" r="1.4" fill="#ff9ca2" fill-opacity="0.11" stroke="#ff9ca2" stroke-opacity="0.18" stroke-width="0.6"/>
<circle cx="60.65" cy="240.35" r="1.4" fill="#ff9ca2" fill-opacity="0.11" stroke="#ff9ca2" stroke-opacity="0.18" stroke-width="0.6"/>
<circle cx="57.54" cy="245.06" r="1.4" fill="#ff9ca2" fill-opacity="0.11" stroke="#ff9ca2" stroke-opacity="0.18" stroke-width="0.6"/>
<circle cx="66.47" cy="232.40" r="1.4" fill="#ff9ca2" fill-opacity="0.11" stroke="#ff9ca2" stroke-opacity="0.18" stroke-width="0.6"/>
<circle cx="66.90" cy="209.02" r="1.4" fill="#ff9ca2" fill-opacity="0.11" stroke="#ff9ca2" stroke-opacity="0.18" stroke-width="0.6"/>
<circle cx="66.52" cy="218.58" r="1.4" fill="#ff9ca2" fill-opacity="0.11" stroke="#ff9ca2" stroke-opacity="0.18" stroke-width="0.6"/>
<circle cx="63.31" cy="252.30" r="1.4" fill="#ff9ca2" fill-opacity="0.11" stroke="#ff9ca2" stroke-opacity="0.18" stroke-width="0.6"/>
<circle cx="66.34" cy="235.25" r="1.4" fill="#ff9ca2" fill-opacity="0.11" stroke="#ff9ca2" stroke-opacity="0.18" stroke-width="0.6"/>
<circle cx="68.69" cy="224.04" r="1.4" fill="#ff9ca2" fill-opacity="0.11" stroke="#ff9ca2" stroke-opacity="0.18" stroke-width="0.6"/>
<circle cx="59.22" cy="241.71" r="1.4" fill="#ff9ca2" fill-opacity="0.11" stroke="#ff9ca2" stroke-opacity="0.18" stroke-width="0.6"/>
<circle cx="66.97" cy="218.56" r="1.4" fill="#ff9ca2" fill-opacity="0.11" stroke="#ff9ca2" stroke-opacity="0.18" stroke-width="0.6"/>
<circle cx="59.82" cy="250.12" r="1.4" fill="#ff9ca2" fill-opacity="0.11" stroke="#ff9ca2" stroke-opacity="0.18" stroke-width="0.6"/>
<circle cx="66.88" cy="257.82" r="1.4" fill="#ff9ca2" fill-opacity="0.11" stroke="#ff9ca2" stroke-opacity="0.18" stroke-width="0.6"/>
<circle cx="68.01" cy="242.91" r="1.4" fill="#ff9ca2" fill-opacity="0.11" stroke="#ff9ca2" stroke-opacity="0.18" stroke-width="0.6"/>
<circle cx="67.52" cy="261.80" r="1.4" fill="#ff9ca2" fill-opacity="0.11" stroke="#ff9ca2" stroke-opacity="0.18" stroke-width="0.6"/>
<circle cx="64.60" cy="235.87" r="1.4" fill="#ff9ca2" fill-opacity="0.11" stroke="#ff9ca2" stroke-opacity="0.18" stroke-width="0.6"/>
<circle cx="72.47" cy="248.97" r="1.4" fill="#ff9ca2" fill-opacity="0.11" stroke="#ff9ca2" stroke-opacity="0.18" stroke-width="0.6"/>
<circle cx="71.57" cy="238.72" r="1.4" fill="#ff9ca2" fill-opacity="0.11" stroke="#ff9ca2" stroke-opacity="0.18" stroke-width="0.6"/>
<circle cx="67.58" cy="262.92" r="1.4" fill="#ff9ca2" fill-opacity="0.11" stroke="#ff9ca2" stroke-opacity="0.18" stroke-width="0.6"/>
<circle cx="62.82" cy="250.17" r="1.4" fill="#ff9ca2" fill-opacity="0.11" stroke="#ff9ca2" stroke-opacity="0.18" stroke-width="0.6"/>
<circle cx="57.49" cy="242.51" r="1.4" fill="#ff9ca2" fill-opacity="0.11" stroke="#ff9ca2" stroke-opacity="0.18" stroke-width="0.6"/>
<circle cx="67.06" cy="204.78" r="1.4" fill="#ff9ca2" fill-opacity="0.11" stroke="#ff9ca2" stroke-opacity="0.18" stroke-width="0.6"/>
<circle cx="66.27" cy="247.18" r="1.4" fill="#ff9ca2" fill-opacity="0.11" stroke="#ff9ca2" stroke-opacity="0.18" stroke-width="0.6"/>
<circle cx="68.49" cy="257.04" r="1.4" fill="#ff9ca2" fill-opacity="0.11" stroke="#ff9ca2" stroke-opacity="0.18" stroke-width="0.6"/>
<circle cx="63.25" cy="239.49" r="1.4" fill="#ff9ca2" fill-opacity="0.11" stroke="#ff9ca2" stroke-opacity="0.18" stroke-width="0.6"/>
<circle cx="68.07" cy="231.70" r="1.4" fill="#ff9ca2" fill-opacity="0.11" stroke="#ff9ca2" stroke-opacity="0.18" stroke-width="0.6"/>
<circle cx="67.27" cy="254.42" r="1.4" fill="#ff9ca2" fill-opacity="0.11" stroke="#ff9ca2" stroke-opacity="0.18" stroke-width="0.6"/>
<circle cx="58.05" cy="246.21" r="1.4" fill="#ff9ca2" fill-opacity="0.11" stroke="#ff9ca2" stroke-opacity="0.18" stroke-width="0.6"/>
<circle cx="73.76" cy="246.32" r="1.4" fill="#ff9ca2" fill-opacity="0.11" stroke="#ff9ca2" stroke-opacity="0.18" stroke-width="0.6"/>
<circle cx="61.16" cy="247.98" r="1.4" fill="#ff9ca2" fill-opacity="0.11" stroke="#ff9ca2" stroke-opacity="0.18" stroke-width="0.6"/>
<circle cx="72.67" cy="249.26" r="1.4" fill="#ff9ca2" fill-opacity="0.11" stroke="#ff9ca2" stroke-opacity="0.18" stroke-width="0.6"/>
<circle cx="94.42" cy="260.23" r="1.4" fill="#a9d6cb" fill-opacity="0.11" stroke="#a9d6cb" stroke-opacity="0.18" stroke-width="0.6"/>
<circle cx="93.14" cy="257.96" r="1.4" fill="#a9d6cb" fill-opacity="0.11" stroke="#a9d6cb" stroke-opacity="0.18" stroke-width="0.6"/>
<circle cx="95.79" cy="221.74" r="1.4" fill="#a9d6cb" fill-opacity="0.11" stroke="#a9d6cb" stroke-opacity="0.18" stroke-width="0.6"/>
<circle cx="98.88" cy="251.85" r="1.4" fill="#a9d6cb" fill-opacity="0.11" stroke="#a9d6cb" stroke-opacity="0.18" stroke-width="0.6"/>
<circle cx="94.41" cy="261.16" r="1.4" fill="#a9d6cb" fill-opacity="0.11" stroke="#a9d6cb" stroke-opacity="0.18" stroke-width="0.6"/>
<circle cx="83.52" cy="242.57" r="1.4" fill="#a9d6cb" fill-opacity="0.11" stroke="#a9d6cb" stroke-opacity="0.18" stroke-width="0.6"/>
<circle cx="94.52" cy="260.49" r="1.4" fill="#a9d6cb" fill-opacity="0.11" stroke="#a9d6cb" stroke-opacity="0.18" stroke-width="0.6"/>
<circle cx="96.28" cy="257.13" r="1.4" fill="#a9d6cb" fill-opacity="0.11" stroke="#a9d6cb" stroke-opacity="0.18" stroke-width="0.6"/>
<circle cx="91.72" cy="252.97" r="1.4" fill="#a9d6cb" fill-opacity="0.11" stroke="#a9d6cb" stroke-opacity="0.18" stroke-width="0.6"/>
<circle cx="95.57" cy="235.74" r="1.4" fill="#a9d6cb" fill-opacity="0.11" stroke="#a9d6cb" stroke-opacity="0.18" stroke-width="0.6"/>
<circle cx="90.69" cy="235.07" r="1.4" fill="#a9d6cb" fill-opacity="0.11" stroke="#a9d6cb" stroke-opacity="0.18" stroke-width="0.6"/>
<circle cx="94.25" cy="255.89" r="1.4" fill="#a9d6cb" fill-opacity="0.11" stroke="#a9d6cb" stroke-opacity="0.18" stroke-width="0.6"/>
<circle cx="92.65" cy="244.77" r="1.4" fill="#a9d6cb" fill-opacity="0.11" stroke="#a9d6cb" stroke-opacity="0.18" stroke-width="0.6"/>
<circle cx="94.68" cy="256.37" r="1.4" fill="#a9d6cb" fill-opacity="0.11" stroke="#a9d6cb" stroke-opacity="0.18" stroke-width="0.6"/>
<circle cx="93.18" cy="241.74" r="1.4" fill="#a9d6cb" fill-opacity="0.11" stroke="#a9d6cb" stroke-opacity="0.18" stroke-width="0.6"/>
<circle cx="96.20" cy="230.22" r="1.4" fill="#a9d6cb" fill-opacity="0.11" stroke="#a9d6cb" stroke-opacity="0.18" stroke-width="0.6"/>
<circle cx="95.65" cy="229.66" r="1.4" fill="#a9d6cb" fill-opacity="0.11" stroke="#a9d6cb" stroke-opacity="0.18" stroke-width="0.6"/>
<circle cx="94.92" cy="243.49" r="1.4" fill="#a9d6cb" fill-opacity="0.11" stroke="#a9d6cb" stroke-opacity="0.18" stroke-width="0.6"/>
<circle cx="85.42" cy="243.95" r="1.4" fill="#a9d6cb" fill-opacity="0.11" stroke="#a9d6cb" stroke-opacity="0.18" stroke-width="0.6"/>
<circle cx="89.36" cy="243.42" r="1.4" fill="#a9d6cb" fill-opacity="0.11" stroke="#a9d6cb" stroke-opacity="0.18" stroke-width="0.6"/>
<circle cx="95.48" cy="250.87" r="1.4" fill="#a9d6cb" fill-opacity="0.11" stroke="#a9d6cb" stroke-opacity="0.18" stroke-width="0.6"/>
<circle cx="93.53" cy="250.52" r="1.4" fill="#a9d6cb" fill-opacity="0.11" stroke="#a9d6cb" stroke-opacity="0.18" stroke-width="0.6"/>
<circle cx="94.78" cy="245.55" r="1.4" fill="#a9d6cb" fill-opacity="0.11" stroke="#a9d6cb" stroke-opacity="0.18" stroke-width="0.6"/>
<circle cx="95.21" cy="247.39" r="1.4" fill="#a9d6cb" fill-opacity="0.11" stroke="#a9d6cb" stroke-opacity="0.18" stroke-width="0.6"/>
<circle cx="98.58" cy="241.00" r="1.4" fill="#a9d6cb" fill-opacity="0.11" stroke="#a9d6cb" stroke-opacity="0.18" stroke-width="0.6"/>
<circle cx="92.72" cy="255.44" r="1.4" fill="#a9d6cb" fill-opacity="0.11" stroke="#a9d6cb" stroke-opacity="0.18" stroke-width="0.6"/>
<circle cx="102.34" cy="244.11" r="1.4" fill="#a9d6cb" fill-opacity="0.11" stroke="#a9d6cb" stroke-opacity="0.18" stroke-width="0.6"/>
<circle cx="94.29" cy="224.48" r="1.4" fill="#a9d6cb" fill-opacity="0.11" stroke="#a9d6cb" stroke-opacity="0.18" stroke-width="0.6"/>
<circle cx="93.56" cy="211.74" r="1.4" fill="#a9d6cb" fill-opacity="0.11" stroke="#a9d6cb" stroke-opacity="0.18" stroke-width="0.6"/>
<circle cx="103.19" cy="247.23" r="1.4" fill="#a9d6cb" fill-opacity="0.11" stroke="#a9d6cb" stroke-opacity="0.18" stroke-width="0.6"/>
<circle cx="95.17" cy="227.65" r="1.4" fill="#a9d6cb" fill-opacity="0.11" stroke="#a9d6cb" stroke-opacity="0.18" stroke-width="0.6"/>
<circle cx="96.19" cy="225.24" r="1.4" fill="#a9d6cb" fill-opacity="0.11" stroke="#a9d6cb" stroke-opacity="0.18" stroke-width="0.6"/>
<circle cx="93.71" cy="233.78" r="1.4" fill="#a9d6cb" fill-opacity="0.11" stroke="#a9d6cb" stroke-opacity="0.18" stroke-width="0.6"/>
<circle cx="101.48" cy="241.49" r="1.4" fill="#a9d6cb" fill-opacity="0.11" stroke="#a9d6cb" stroke-opacity="0.18" stroke-width="0.6"/>
<circle cx="94.57" cy="227.37" r="1.4" fill="#a9d6cb" fill-opacity="0.11" stroke="#a9d6cb" stroke-opacity="0.18" stroke-width="0.6"/>
<circle cx="91.79" cy="237.20" r="1.4" fill="#a9d6cb" fill-opacity="0.11" stroke="#a9d6cb" stroke-opacity="0.18" stroke-width="0.6"/>
<circle cx="95.55" cy="248.17" r="1.4" fill="#a9d6cb" fill-opacity="0.11" stroke="#a9d6cb" stroke-opacity="0.18" stroke-width="0.6"/>
<circle cx="91.24" cy="239.46" r="1.4" fill="#a9d6cb" fill-opacity="0.11" stroke="#a9d6cb" stroke-opacity="0.18" stroke-width="0.6"/>
<circle cx="84.37" cy="245.56" r="1.4" fill="#a9d6cb" fill-opacity="0.11" stroke="#a9d6cb" stroke-opacity="0.18" stroke-width="0.6"/>
<circle cx="94.78" cy="262.76" r="1.4" fill="#a9d6cb" fill-opacity="0.11" stroke="#a9d6cb" stroke-opacity="0.18" stroke-width="0.6"/>
<circle cx="93.28" cy="217.56" r="1.4" fill="#a9d6cb" fill-opacity="0.11" stroke="#a9d6cb" stroke-opacity="0.18" stroke-width="0.6"/>
<circle cx="88.64" cy="250.63" r="1.4" fill="#a9d6cb" fill-opacity="0.11" stroke="#a9d6cb" stroke-opacity="0.18" stroke-width="0.6"/>
<circle cx="100.48" cy="240.08" r="1.4" fill="#a9d6cb" fill-opacity="0.11" stroke="#a9d6cb" stroke-opacity="0.18" stroke-width="0.6"/>
<circle cx="98.83" cy="234.80" r="1.4" fill="#a9d6cb" fill-opacity="0.11" stroke="#a9d6cb" stroke-opacity="0.18" stroke-width="0.6"/>
<circle cx="85.04" cy="243.87" r="1.4" fill="#a9d6cb" fill-opacity="0.11" stroke="#a9d6cb" stroke-opacity="0.18" stroke-width="0.6"/>
<circle cx="94.35" cy="208.58" r="1.4" fill="#a9d6cb" fill-opacity="0.11" stroke="#a9d6cb" stroke-opacity="0.18" stroke-width="0.6"/>
<circle cx="94.80" cy="212.44" r="1.4" fill="#a9d6cb" fill-opacity="0.11" stroke="#a9d6cb" stroke-opacity="0.18" stroke-width="0.6"/>
<circle cx="99.27" cy="251.78" r="1.4" fill="#a9d6cb" fill-opacity="0.11" stroke="#a9d6cb" stroke-opacity="0.18" stroke-width="0.6"/>
<circle cx="94.40" cy="211.10" r="1.4" fill="#a9d6cb" fill-opacity="0.11" stroke="#a9d6cb" stroke-opacity="0.18" stroke-width="0.6"/>
<circle cx="100.87" cy="237.55" r="1.4" fill="#a9d6cb" fill-opacity="0.11" stroke="#a9d6cb" stroke-opacity="0.18" stroke-width="0.6"/>
<circle cx="94.80" cy="235.01" r="1.4" fill="#a9d6cb" fill-opacity="0.11" stroke="#a9d6cb" stroke-opacity="0.18" stroke-width="0.6"/>
<circle cx="91.44" cy="234.13" r="1.4" fill="#a9d6cb" fill-opacity="0.11" stroke="#a9d6cb" stroke-opacity="0.18" stroke-width="0.6"/>
<circle cx="94.12" cy="206.97" r="1.4" fill="#a9d6cb" fill-opacity="0.11" stroke="#a9d6cb" stroke-opacity="0.18" stroke-width="0.6"/>
<circle cx="91.90" cy="236.26" r="1.4" fill="#a9d6cb" fill-opacity="0.11" stroke="#a9d6cb" stroke-opacity="0.18" stroke-width="0.6"/>
<circle cx="91.21" cy="241.24" r="1.4" fill="#a9d6cb" fill-opacity="0.11" stroke="#a9d6cb" stroke-opacity="0.18" stroke-width="0.6"/>
<circle cx="94.12" cy="200.81" r="1.4" fill="#a9d6cb" fill-opacity="0.11" stroke="#a9d6cb" stroke-opacity="0.18" stroke-width="0.6"/>
<circle cx="88.46" cy="248.70" r="1.4" fill="#a9d6cb" fill-opacity="0.11" stroke="#a9d6cb" stroke-opacity="0.18" stroke-width="0.6"/>
<circle cx="86.43" cy="241.00" r="1.4" fill="#a9d6cb" fill-opacity="0.11" stroke="#a9d6cb" stroke-opacity="0.18" stroke-width="0.6"/>
<circle cx="94.44" cy="252.69" r="1.4" fill="#a9d6cb" fill-opacity="0.11" stroke="#a9d6cb" stroke-opacity="0.18" stroke-width="0.6"/>
<circle cx="94.57" cy="253.15" r="1.4" fill="#a9d6cb" fill-opacity="0.11" stroke="#a9d6cb" stroke-opacity="0.18" stroke-width="0.6"/>
<circle cx="91.17" cy="247.92" r="1.4" fill="#a9d6cb" fill-opacity="0.11" stroke="#a9d6cb" stroke-opacity="0.18" stroke-width="0.6"/>
<circle cx="96.02" cy="253.47" r="1.4" fill="#a9d6cb" fill-opacity="0.11" stroke="#a9d6cb" stroke-opacity="0.18" stroke-width="0.6"/>
<circle cx="86.44" cy="239.22" r="1.4" fill="#a9d6cb" fill-opacity="0.11" stroke="#a9d6cb" stroke-opacity="0.18" stroke-width="0.6"/>
<circle cx="95.32" cy="223.06" r="1.4" fill="#a9d6cb" fill-opacity="0.11" stroke="#a9d6cb" stroke-opacity="0.18" stroke-width="0.6"/>
<circle cx="90.21" cy="234.81" r="1.4" fill="#a9d6cb" fill-opacity="0.11" stroke="#a9d6cb" stroke-opacity="0.18" stroke-width="0.6"/>
<circle cx="96.23" cy="254.10" r="1.4" fill="#a9d6cb" fill-opacity="0.11" stroke="#a9d6cb" stroke-opacity="0.18" stroke-width="0.6"/>
<circle cx="92.08" cy="235.39" r="1.4" fill="#a9d6cb" fill-opacity="0.11" stroke="#a9d6cb" stroke-opacity="0.18" stroke-width="0.6"/>
<circle cx="93.42" cy="239.88" r="1.4" fill="#a9d6cb" fill-opacity="0.11" stroke="#a9d6cb" stroke-opacity="0.18" stroke-width="0.6"/>
<circle cx="99.38" cy="235.61" r="1.4" fill="#a9d6cb" fill-opacity="0.11" stroke="#a9d6cb" stroke-opacity="0.18" stroke-width="0.6"/>
<circle cx="105.03" cy="242.68" r="1.4" fill="#a9d6cb" fill-opacity="0.11" stroke="#a9d6cb" stroke-opacity="0.18" stroke-width="0.6"/>
<circle cx="114.07" cy="217.80" r="1.4" fill="#f5dc40" fill-opacity="0.15" stroke="#f5dc40" stroke-opacity="0.25" stroke-width="0.6"/>
<circle cx="121.35" cy="220.25" r="1.4" fill="#f5dc40" fill-opacity="0.15" stroke="#f5dc40" stroke-opacity="0.25" stroke-width="0.6"/>
<circle cx="117.76" cy="210.11" r="1.4" fill="#f5dc40" fill-opacity="0.15" stroke="#f5dc40" stroke-opacity="0.25" stroke-width="0.6"/>
<circle cx="120.16" cy="215.42" r="1.4" fill="#f5dc40" fill-opacity="0.15" stroke="#f5dc40" stroke-opacity="0.25" stroke-width="0.6"/>
<circle cx="121.15" cy="181.16" r="1.4" fill="#f5dc40" fill-opacity="0.15" stroke="#f5dc40" stroke-opacity="0.25" stroke-width="0.6"/>
<circle cx="121.57" cy="214.09" r="1.4" fill="#f5dc40" fill-opacity="0.15" stroke="#f5dc40" stroke-opacity="0.25" stroke-width="0.6"/>
<circle cx="124.38" cy="233.16" r="1.4" fill="#f5dc40" fill-opacity="0.15" stroke="#f5dc40" stroke-opacity="0.25" stroke-width="0.6"/>
<circle cx="121.05" cy="241.18" r="1.4" fill="#f5dc40" fill-opacity="0.15" stroke="#f5dc40" stroke-opacity="0.25" stroke-width="0.6"/>
<circle cx="121.43" cy="249.29" r="1.4" fill="#f5dc40" fill-opacity="0.15" stroke="#f5dc40" stroke-opacity="0.25" stroke-width="0.6"/>
<circle cx="128.32" cy="229.32" r="1.4" fill="#f5dc40" fill-opacity="0.15" stroke="#f5dc40" stroke-opacity="0.25" stroke-width="0.6"/>
<circle cx="121.63" cy="242.13" r="1.4" fill="#f5dc40" fill-opacity="0.15" stroke="#f5dc40" stroke-opacity="0.25" stroke-width="0.6"/>
<circle cx="121.47" cy="235.24" r="1.4" fill="#f5dc40" fill-opacity="0.15" stroke="#f5dc40" stroke-opacity="0.25" stroke-width="0.6"/>
<circle cx="127.77" cy="224.80" r="1.4" fill="#f5dc40" fill-opacity="0.15" stroke="#f5dc40" stroke-opacity="0.25" stroke-width="0.6"/>
<circle cx="123.51" cy="236.25" r="1.4" fill="#f5dc40" fill-opacity="0.15" stroke="#f5dc40" stroke-opacity="0.25" stroke-width="0.6"/>
<circle cx="116.06" cy="231.19" r="1.4" fill="#f5dc40" fill-opacity="0.15" stroke="#f5dc40" stroke-opacity="0.25" stroke-width="0.6"/>
<circle cx="121.22" cy="177.63" r="1.4" fill="#f5dc40" fill-opacity="0.15" stroke="#f5dc40" stroke-opacity="0.25" stroke-width="0.6"/>
<circle cx="121.48" cy="198.64" r="1.4" fill="#f5dc40" fill-opacity="0.15" stroke="#f5dc40" stroke-opacity="0.25" stroke-width="0.6"/>
<circle cx="125.08" cy="229.90" r="1.4" fill="#f5dc40" fill-opacity="0.15" stroke="#f5dc40" stroke-opacity="0.25" stroke-width="0.6"/>
<circle cx="127.62" cy="223.97" r="1.4" fill="#f5dc40" fill-opacity="0.15" stroke="#f5dc40" stroke-opacity="0.25" stroke-width="0.6"/>
<circle cx="121.80" cy="233.01" r="1.4" fill="#f5dc40" fill-opacity="0.15" stroke="#f5dc40" stroke-opacity="0.25" stroke-width="0.6"/>
<circle cx="126.09" cy="229.97" r="1.4" fill="#f5dc40" fill-opacity="0.15" stroke="#f5dc40" stroke-opacity="0.25" stroke-width="0.6"/>
<circle cx="118.88" cy="214.55" r="1.4" fill="#f5dc40" fill-opacity="0.15" stroke="#f5dc40" stroke-opacity="0.25" stroke-width="0.6"/>
<circle cx="125.07" cy="232.24" r="1.4" fill="#f5dc40" fill-opacity="0.15" stroke="#f5dc40" stroke-opacity="0.25" stroke-width="0.6"/>
<circle cx="121.23" cy="249.19" r="1.4" fill="#f5dc40" fill-opacity="0.15" stroke="#f5dc40" stroke-opacity="0.25" stroke-width="0.6"/>
<circle cx="126.81" cy="223.77" r="1.4" fill="#f5dc40" fill-opacity="0.15" stroke="#f5dc40" stroke-opacity="0.25" stroke-width="0.6"/>
<circle cx="112.23" cy="229.27" r="1.4" fill="#f5dc40" fill-opacity="0.15" stroke="#f5dc40" stroke-opacity="0.25" stroke-width="0.6"/>
<circle cx="122.42" cy="203.65" r="1.4" fill="#f5dc40" fill-opacity="0.15" stroke="#f5dc40" stroke-opacity="0.25" stroke-width="0.6"/>
<circle cx="114.73" cy="217.35" r="1.4" fill="#f5dc40" fill-opacity="0.15" stroke="#f5dc40" stroke-opacity="0.25" stroke-width="0.6"/>
<circle cx="121.50" cy="187.83" r="1.4" fill="#f5dc40" fill-opacity="0.15" stroke="#f5dc40" stroke-opacity="0.25" stroke-width="0.6"/>
<circle cx="117.46" cy="231.73" r="1.4" fill="#f5dc40" fill-opacity="0.15" stroke="#f5dc40" stroke-opacity="0.25" stroke-width="0.6"/>
<circle cx="120.57" cy="225.31" r="1.4" fill="#f5dc40" fill-opacity="0.15" stroke="#f5dc40" stroke-opacity="0.25" stroke-width="0.6"/>
<circle cx="120.18" cy="201.32" r="1.4" fill="#f5dc40" fill-opacity="0.15" stroke="#f5dc40" stroke-opacity="0.25" stroke-width="0.6"/>
<circle cx="121.01" cy="249.64" r="1.4" fill="#f5dc40" fill-opacity="0.15" stroke="#f5dc40" stroke-opacity="0.25" stroke-width="0.6"/>
<circle cx="130.66" cy="223.07" r="1.4" fill="#f5dc40" fill-opacity="0.15" stroke="#f5dc40" stroke-opacity="0.25" stroke-width="0.6"/>
<circle cx="115.50" cy="222.52" r="1.4" fill="#f5dc40" fill-opacity="0.15" stroke="#f5dc40" stroke-opacity="0.25" stroke-width="0.6"/>
<circle cx="121.55" cy="245.65" r="1.4" fill="#f5dc40" fill-opacity="0.15" stroke="#f5dc40" stroke-opacity="0.25" stroke-width="0.6"/>
<circle cx="123.24" cy="202.98" r="1.4" fill="#f5dc40" fill-opacity="0.15" stroke="#f5dc40" stroke-opacity="0.25" stroke-width="0.6"/>
<circle cx="121.33" cy="202.31" r="1.4" fill="#f5dc40" fill-opacity="0.15" stroke="#f5dc40" stroke-opacity="0.25" stroke-width="0.6"/>
<circle cx="120.92" cy="242.20" r="1.4" fill="#f5dc40" fill-opacity="0.15" stroke="#f5dc40" stroke-opacity="0.25" stroke-width="0.6"/>
<circle cx="120.56" cy="242.60" r="1.4" fill="#f5dc40" fill-opacity="0.15" stroke="#f5dc40" stroke-opacity="0.25" stroke-width="0.6"/>
<circle cx="121.27" cy="172.58" r="1.4" fill="#f5dc40" fill-opacity="0.15" stroke="#f5dc40" stroke-opacity="0.25" stroke-width="0.6"/>
<circle cx="119.20" cy="216.92" r="1.4" fill="#f5dc40" fill-opacity="0.15" stroke="#f5dc40" stroke-opacity="0.25" stroke-width="0.6"/>
<circle cx="114.08" cy="218.28" r="1.4" fill="#f5dc40" fill-opacity="0.15" stroke="#f5dc40" stroke-opacity="0.25" stroke-width="0.6"/>
<circle cx="115.88" cy="233.35" r="1.4" fill="#f5dc40" fill-opacity="0.15" stroke="#f5dc40" stroke-opacity="0.25" stroke-width="0.6"/>
<circle cx="122.64" cy="244.94" r="1.4" fill="#f5dc40" fill-opacity="0.15" stroke="#f5dc40" stroke-opacity="0.25" stroke-width="0.6"/>
<circle cx="119.86" cy="217.15" r="1.4" fill="#f5dc40" fill-opacity="0.15" stroke="#f5dc40" stroke-opacity="0.25" stroke-width="0.6"/>
<circle cx="121.22" cy="251.09" r="1.4" fill="#f5dc40" fill-opacity="0.15" stroke="#f5dc40" stroke-opacity="0.25" stroke-width="0.6"/>
<circle cx="112.54" cy="221.78" r="1.4" fill="#f5dc40" fill-opacity="0.15" stroke="#f5dc40" stroke-opacity="0.25" stroke-width="0.6"/>
<circle cx="120.65" cy="198.64" r="1.4" fill="#f5dc40" fill-opacity="0.15" stroke="#f5dc40" stroke-opacity="0.25" stroke-width="0.6"/>
<circle cx="120.50" cy="245.05" r="1.4" fill="#f5dc40" fill-opacity="0.15" stroke="#f5dc40" stroke-opacity="0.25" stroke-width="0.6"/>
<circle cx="118.55" cy="225.04" r="1.4" fill="#f5dc40" fill-opacity="0.15" stroke="#f5dc40" stroke-opacity="0.25" stroke-width="0.6"/>
<circle cx="121.87" cy="247.73" r="1.4" fill="#f5dc40" fill-opacity="0.15" stroke="#f5dc40" stroke-opacity="0.25" stroke-width="0.6"/>
<circle cx="130.52" cy="230.19" r="1.4" fill="#f5dc40" fill-opacity="0.15" stroke="#f5dc40" stroke-opacity="0.25" stroke-width="0.6"/>
<circle cx="111.30" cy="227.22" r="1.4" fill="#f5dc40" fill-opacity="0.15" stroke="#f5dc40" stroke-opacity="0.25" stroke-width="0.6"/>
<circle cx="125.27" cy="232.49" r="1.4" fill="#f5dc40" fill-opacity="0.15" stroke="#f5dc40" stroke-opacity="0.25" stroke-width="0.6"/>
<circle cx="111.86" cy="229.56" r="1.4" fill="#f5dc40" fill-opacity="0.15" stroke="#f5dc40" stroke-opacity="0.25" stroke-width="0.6"/>
<circle cx="121.21" cy="244.36" r="1.4" fill="#f5dc40" fill-opacity="0.15" stroke="#f5dc40" stroke-opacity="0.25" stroke-width="0.6"/>
<circle cx="125.17" cy="219.02" r="1.4" fill="#f5dc40" fill-opacity="0.15" stroke="#f5dc40" stroke-opacity="0.25" stroke-width="0.6"/>
<circle cx="121.39" cy="248.96" r="1.4" fill="#f5dc40" fill-opacity="0.15" stroke="#f5dc40" stroke-opacity="0.25" stroke-width="0.6"/>
<circle cx="119.88" cy="217.34" r="1.4" fill="#f5dc40" fill-opacity="0.15" stroke="#f5dc40" stroke-opacity="0.25" stroke-width="0.6"/>
<circle cx="147.16" cy="227.29" r="1.4" fill="#7fbfcc" fill-opacity="0.12" stroke="#7fbfcc" stroke-opacity="0.20" stroke-width="0.6"/>
<circle cx="147.31" cy="259.93" r="1.4" fill="#7fbfcc" fill-opacity="0.12" stroke="#7fbfcc" stroke-opacity="0.20" stroke-width="0.6"/>
<circle cx="148.21" cy="260.43" r="1.4" fill="#7fbfcc" fill-opacity="0.12" stroke="#7fbfcc" stroke-opacity="0.20" stroke-width="0.6"/>
<circle cx="146.81" cy="223.20" r="1.4" fill="#7fbfcc" fill-opacity="0.12" stroke="#7fbfcc" stroke-opacity="0.20" stroke-width="0.6"/>
<circle cx="145.21" cy="239.95" r="1.4" fill="#7fbfcc" fill-opacity="0.12" stroke="#7fbfcc" stroke-opacity="0.20" stroke-width="0.6"/>
<circle cx="151.02" cy="236.32" r="1.4" fill="#7fbfcc" fill-opacity="0.12" stroke="#7fbfcc" stroke-opacity="0.20" stroke-width="0.6"/>
<circle cx="146.84" cy="253.99" r="1.4" fill="#7fbfcc" fill-opacity="0.12" stroke="#7fbfcc" stroke-opacity="0.20" stroke-width="0.6"/>
<circle cx="144.66" cy="246.76" r="1.4" fill="#7fbfcc" fill-opacity="0.12" stroke="#7fbfcc" stroke-opacity="0.20" stroke-width="0.6"/>
<circle cx="149.72" cy="207.89" r="1.4" fill="#7fbfcc" fill-opacity="0.12" stroke="#7fbfcc" stroke-opacity="0.20" stroke-width="0.6"/>
<circle cx="148.89" cy="221.89" r="1.4" fill="#7fbfcc" fill-opacity="0.12" stroke="#7fbfcc" stroke-opacity="0.20" stroke-width="0.6"/>
<circle cx="146.70" cy="257.72" r="1.4" fill="#7fbfcc" fill-opacity="0.12" stroke="#7fbfcc" stroke-opacity="0.20" stroke-width="0.6"/>
<circle cx="148.06" cy="235.38" r="1.4" fill="#7fbfcc" fill-opacity="0.12" stroke="#7fbfcc" stroke-opacity="0.20" stroke-width="0.6"/>
<circle cx="148.75" cy="263.80" r="1.4" fill="#7fbfcc" fill-opacity="0.12" stroke="#7fbfcc" stroke-opacity="0.20" stroke-width="0.6"/>
<circle cx="148.68" cy="200.41" r="1.4" fill="#7fbfcc" fill-opacity="0.12" stroke="#7fbfcc" stroke-opacity="0.20" stroke-width="0.6"/>
<circle cx="148.80" cy="259.45" r="1.4" fill="#7fbfcc" fill-opacity="0.12" stroke="#7fbfcc" stroke-opacity="0.20" stroke-width="0.6"/>
<circle cx="148.66" cy="197.89" r="1.4" fill="#7fbfcc" fill-opacity="0.12" stroke="#7fbfcc" stroke-opacity="0.20" stroke-width="0.6"/>
<circle cx="153.66" cy="256.86" r="1.4" fill="#7fbfcc" fill-opacity="0.12" stroke="#7fbfcc" stroke-opacity="0.20" stroke-width="0.6"/>
<circle cx="146.23" cy="235.09" r="1.4" fill="#7fbfcc" fill-opacity="0.12" stroke="#7fbfcc" stroke-opacity="0.20" stroke-width="0.6"/>
<circle cx="158.59" cy="247.07" r="1.4" fill="#7fbfcc" fill-opacity="0.12" stroke="#7fbfcc" stroke-opacity="0.20" stroke-width="0.6"/>
<circle cx="153.52" cy="253.71" r="1.4" fill="#7fbfcc" fill-opacity="0.12" stroke="#7fbfcc" stroke-opacity="0.20" stroke-width="0.6"/>
<circle cx="138.55" cy="244.85" r="1.4" fill="#7fbfcc" fill-opacity="0.12" stroke="#7fbfcc" stroke-opacity="0.20" stroke-width="0.6"/>
<circle cx="154.77" cy="254.77" r="1.4" fill="#7fbfcc" fill-opacity="0.12" stroke="#7fbfcc" stroke-opacity="0.20" stroke-width="0.6"/>
<circle cx="140.02" cy="250.88" r="1.4" fill="#7fbfcc" fill-opacity="0.12" stroke="#7fbfcc" stroke-opacity="0.20" stroke-width="0.6"/>
<circle cx="149.65" cy="235.62" r="1.4" fill="#7fbfcc" fill-opacity="0.12" stroke="#7fbfcc" stroke-opacity="0.20" stroke-width="0.6"/>
<circle cx="148.49" cy="218.01" r="1.4" fill="#7fbfcc" fill-opacity="0.12" stroke="#7fbfcc" stroke-opacity="0.20" stroke-width="0.6"/>
<circle cx="141.93" cy="248.89" r="1.4" fill="#7fbfcc" fill-opacity="0.12" stroke="#7fbfcc" stroke-opacity="0.20" stroke-width="0.6"/>
<circle cx="143.79" cy="249.20" r="1.4" fill="#7fbfcc" fill-opacity="0.12" stroke="#7fbfcc" stroke-opacity="0.20" stroke-width="0.6"/>
<circle cx="151.49" cy="245.26" r="1.4" fill="#7fbfcc" fill-opacity="0.12" stroke="#7fbfcc" stroke-opacity="0.20" stroke-width="0.6"/>
<circle cx="146.97" cy="258.98" r="1.4" fill="#7fbfcc" fill-opacity="0.12" stroke="#7fbfcc" stroke-opacity="0.20" stroke-width="0.6"/>
<circle cx="149.69" cy="235.94" r="1.4" fill="#7fbfcc" fill-opacity="0.12" stroke="#7fbfcc" stroke-opacity="0.20" stroke-width="0.6"/>
<circle cx="148.38" cy="238.60" r="1.4" fill="#7fbfcc" fill-opacity="0.12" stroke="#7fbfcc" stroke-opacity="0.20" stroke-width="0.6"/>
<circle cx="143.07" cy="251.67" r="1.4" fill="#7fbfcc" fill-opacity="0.12" stroke="#7fbfcc" stroke-opacity="0.20" stroke-width="0.6"/>
<circle cx="142.40" cy="252.17" r="1.4" fill="#7fbfcc" fill-opacity="0.12" stroke="#7fbfcc" stroke-opacity="0.20" stroke-width="0.6"/>
<circle cx="148.23" cy="203.42" r="1.4" fill="#7fbfcc" fill-opacity="0.12" stroke="#7fbfcc" stroke-opacity="0.20" stroke-width="0.6"/>
<circle cx="154.71" cy="252.09" r="1.4" fill="#7fbfcc" fill-opacity="0.12" stroke="#7fbfcc" stroke-opacity="0.20" stroke-width="0.6"/>
<circle cx="143.07" cy="254.08" r="1.4" fill="#7fbfcc" fill-opacity="0.12" stroke="#7fbfcc" stroke-opacity="0.20" stroke-width="0.6"/>
<circle cx="148.59" cy="265.77" r="1.4" fill="#7fbfcc" fill-opacity="0.12" stroke="#7fbfcc" stroke-opacity="0.20" stroke-width="0.6"/>
<circle cx="149.93" cy="234.41" r="1.4" fill="#7fbfcc" fill-opacity="0.12" stroke="#7fbfcc" stroke-opacity="0.20" stroke-width="0.6"/>
<circle cx="148.36" cy="238.87" r="1.4" fill="#7fbfcc" fill-opacity="0.12" stroke="#7fbfcc" stroke-opacity="0.20" stroke-width="0.6"/>
<circle cx="148.02" cy="229.65" r="1.4" fill="#7fbfcc" fill-opacity="0.12" stroke="#7fbfcc" stroke-opacity="0.20" stroke-width="0.6"/>
<circle cx="140.64" cy="252.20" r="1.4" fill="#7fbfcc" fill-opacity="0.12" stroke="#7fbfcc" stroke-opacity="0.20" stroke-width="0.6"/>
<circle cx="156.77" cy="242.60" r="1.4" fill="#7fbfcc" fill-opacity="0.12" stroke="#7fbfcc" stroke-opacity="0.20" stroke-width="0.6"/>
<circle cx="146.69" cy="223.06" r="1.4" fill="#7fbfcc" fill-opacity="0.12" stroke="#7fbfcc" stroke-opacity="0.20" stroke-width="0.6"/>
<circle cx="155.17" cy="243.29" r="1.4" fill="#7fbfcc" fill-opacity="0.12" stroke="#7fbfcc" stroke-opacity="0.20" stroke-width="0.6"/>
<circle cx="156.75" cy="254.06" r="1.4" fill="#7fbfcc" fill-opacity="0.12" stroke="#7fbfcc" stroke-opacity="0.20" stroke-width="0.6"/>
<circle cx="153.74" cy="240.04" r="1.4" fill="#7fbfcc" fill-opacity="0.12" stroke="#7fbfcc" stroke-opacity="0.20" stroke-width="0.6"/>
<circle cx="151.37" cy="253.61" r="1.4" fill="#7fbfcc" fill-opacity="0.12" stroke="#7fbfcc" stroke-opacity="0.20" stroke-width="0.6"/>
<circle cx="145.68" cy="242.14" r="1.4" fill="#7fbfcc" fill-opacity="0.12" stroke="#7fbfcc" stroke-opacity="0.20" stroke-width="0.6"/>
<circle cx="147.46" cy="227.13" r="1.4" fill="#7fbfcc" fill-opacity="0.12" stroke="#7fbfcc" stroke-opacity="0.20" stroke-width="0.6"/>
<circle cx="143.36" cy="241.46" r="1.4" fill="#7fbfcc" fill-opacity="0.12" stroke="#7fbfcc" stroke-opacity="0.20" stroke-width="0.6"/>
<circle cx="148.31" cy="264.81" r="1.4" fill="#7fbfcc" fill-opacity="0.12" stroke="#7fbfcc" stroke-opacity="0.20" stroke-width="0.6"/>
<circle cx="147.65" cy="256.82" r="1.4" fill="#7fbfcc" fill-opacity="0.12" stroke="#7fbfcc" stroke-opacity="0.20" stroke-width="0.6"/>
<circle cx="148.07" cy="206.47" r="1.4" fill="#7fbfcc" fill-opacity="0.12" stroke="#7fbfcc" stroke-opacity="0.20" stroke-width="0.6"/>
<circle cx="147.95" cy="260.08" r="1.4" fill="#7fbfcc" fill-opacity="0.12" stroke="#7fbfcc" stroke-opacity="0.20" stroke-width="0.6"/>
<circle cx="147.99" cy="259.01" r="1.4" fill="#7fbfcc" fill-opacity="0.12" stroke="#7fbfcc" stroke-opacity="0.20" stroke-width="0.6"/>
<circle cx="142.70" cy="256.27" r="1.4" fill="#7fbfcc" fill-opacity="0.12" stroke="#7fbfcc" stroke-opacity="0.20" stroke-width="0.6"/>
<circle cx="149.28" cy="203.14" r="1.4" fill="#7fbfcc" fill-opacity="0.12" stroke="#7fbfcc" stroke-opacity="0.20" stroke-width="0.6"/>
<circle cx="151.10" cy="236.49" r="1.4" fill="#7fbfcc" fill-opacity="0.12" stroke="#7fbfcc" stroke-opacity="0.20" stroke-width="0.6"/>
<circle cx="154.00" cy="240.13" r="1.4" fill="#7fbfcc" fill-opacity="0.12" stroke="#7fbfcc" stroke-opacity="0.20" stroke-width="0.6"/>
<circle cx="153.37" cy="250.15" r="1.4" fill="#7fbfcc" fill-opacity="0.12" stroke="#7fbfcc" stroke-opacity="0.20" stroke-width="0.6"/>
<circle cx="142.88" cy="239.49" r="1.4" fill="#7fbfcc" fill-opacity="0.12" stroke="#7fbfcc" stroke-opacity="0.20" stroke-width="0.6"/>
<circle cx="150.63" cy="254.98" r="1.4" fill="#7fbfcc" fill-opacity="0.12" stroke="#7fbfcc" stroke-opacity="0.20" stroke-width="0.6"/>
<circle cx="147.92" cy="261.52" r="1.4" fill="#7fbfcc" fill-opacity="0.12" stroke="#7fbfcc" stroke-opacity="0.20" stroke-width="0.6"/>
<circle cx="158.45" cy="245.94" r="1.4" fill="#7fbfcc" fill-opacity="0.12" stroke="#7fbfcc" stroke-opacity="0.20" stroke-width="0.6"/>
<circle cx="147.27" cy="242.02" r="1.4" fill="#7fbfcc" fill-opacity="0.12" stroke="#7fbfcc" stroke-opacity="0.20" stroke-width="0.6"/>
<circle cx="141.20" cy="246.61" r="1.4" fill="#7fbfcc" fill-opacity="0.12" stroke="#7fbfcc" stroke-opacity="0.20" stroke-width="0.6"/>
<circle cx="152.83" cy="255.75" r="1.4" fill="#7fbfcc" fill-opacity="0.12" stroke="#7fbfcc" stroke-opacity="0.20" stroke-width="0.6"/>
<circle cx="145.79" cy="255.14" r="1.4" fill="#7fbfcc" fill-opacity="0.12" stroke="#7fbfcc" stroke-opacity="0.20" stroke-width="0.6"/>
<circle cx="151.54" cy="239.58" r="1.4" fill="#7fbfcc" fill-opacity="0.12" stroke="#7fbfcc" stroke-opacity="0.20" stroke-width="0.6"/>
<circle cx="149.19" cy="211.25" r="1.4" fill="#7fbfcc" fill-opacity="0.12" stroke="#7fbfcc" stroke-opacity="0.20" stroke-width="0.6"/>
<circle cx="145.47" cy="235.05" r="1.4" fill="#7fbfcc" fill-opacity="0.12" stroke="#7fbfcc" stroke-opacity="0.20" stroke-width="0.6"/>
<circle cx="159.60" cy="247.43" r="1.4" fill="#7fbfcc" fill-opacity="0.12" stroke="#7fbfcc" stroke-opacity="0.20" stroke-width="0.6"/>
<circle cx="147.13" cy="259.49" r="1.4" fill="#7fbfcc" fill-opacity="0.12" stroke="#7fbfcc" stroke-opacity="0.20" stroke-width="0.6"/>
<circle cx="148.40" cy="212.90" r="1.4" fill="#7fbfcc" fill-opacity="0.12" stroke="#7fbfcc" stroke-opacity="0.20" stroke-width="0.6"/>
<circle cx="142.98" cy="252.95" r="1.4" fill="#7fbfcc" fill-opacity="0.12" stroke="#7fbfcc" stroke-opacity="0.20" stroke-width="0.6"/>
<circle cx="151.73" cy="243.63" r="1.4" fill="#7fbfcc" fill-opacity="0.12" stroke="#7fbfcc" stroke-opacity="0.20" stroke-width="0.6"/>
<circle cx="151.37" cy="254.42" r="1.4" fill="#7fbfcc" fill-opacity="0.12" stroke="#7fbfcc" stroke-opacity="0.20" stroke-width="0.6"/>
<circle cx="147.64" cy="220.53" r="1.4" fill="#7fbfcc" fill-opacity="0.12" stroke="#7fbfcc" stroke-opacity="0.20" stroke-width="0.6"/>
<circle cx="153.98" cy="248.18" r="1.4" fill="#7fbfcc" fill-opacity="0.12" stroke="#7fbfcc" stroke-opacity="0.20" stroke-width="0.6"/>
<circle cx="147.19" cy="230.73" r="1.4" fill="#7fbfcc" fill-opacity="0.12" stroke="#7fbfcc" stroke-opacity="0.20" stroke-width="0.6"/>
<circle cx="175.77" cy="221.88" r="1.4" fill="#cc5a7a" fill-opacity="0.15" stroke="#cc5a7a" stroke-opacity="0.25" stroke-width="0.6"/>
<circle cx="181.83" cy="234.64" r="1.4" fill="#cc5a7a" fill-opacity="0.15" stroke="#cc5a7a" stroke-opacity="0.25" stroke-width="0.6"/>
<circle cx="182.22" cy="240.67" r="1.4" fill="#cc5a7a" fill-opacity="0.15" stroke="#cc5a7a" stroke-opacity="0.25" stroke-width="0.6"/>
<circle cx="166.51" cy="246.19" r="1.4" fill="#cc5a7a" fill-opacity="0.15" stroke="#cc5a7a" stroke-opacity="0.25" stroke-width="0.6"/>
<circle cx="182.56" cy="239.93" r="1.4" fill="#cc5a7a" fill-opacity="0.15" stroke="#cc5a7a" stroke-opacity="0.25" stroke-width="0.6"/>
<circle cx="174.47" cy="254.79" r="1.4" fill="#cc5a7a" fill-opacity="0.15" stroke="#cc5a7a" stroke-opacity="0.25" stroke-width="0.6"/>
<circle cx="177.37" cy="214.81" r="1.4" fill="#cc5a7a" fill-opacity="0.15" stroke="#cc5a7a" stroke-opacity="0.25" stroke-width="0.6"/>
<circle cx="172.46" cy="243.43" r="1.4" fill="#cc5a7a" fill-opacity="0.15" stroke="#cc5a7a" stroke-opacity="0.25" stroke-width="0.6"/>
<circle cx="172.96" cy="252.43" r="1.4" fill="#cc5a7a" fill-opacity="0.15" stroke="#cc5a7a" stroke-opacity="0.25" stroke-width="0.6"/>
<circle cx="168.57" cy="250.40" r="1.4" fill="#cc5a7a" fill-opacity="0.15" stroke="#cc5a7a" stroke-opacity="0.25" stroke-width="0.6"/>
<circle cx="168.90" cy="243.79" r="1.4" fill="#cc5a7a" fill-opacity="0.15" stroke="#cc5a7a" stroke-opacity="0.25" stroke-width="0.6"/>
<circle cx="170.55" cy="236.19" r="1.4" fill="#cc5a7a" fill-opacity="0.15" stroke="#cc5a7a" stroke-opacity="0.25" stroke-width="0.6"/>
<circle cx="176.57" cy="231.48" r="1.4" fill="#cc5a7a" fill-opacity="0.15" stroke="#cc5a7a" stroke-opacity="0.25" stroke-width="0.6"/>
<circle cx="174.40" cy="227.51" r="1.4" fill="#cc5a7a" fill-opacity="0.15" stroke="#cc5a7a" stroke-opacity="0.25" stroke-width="0.6"/>
<circle cx="171.28" cy="246.05" r="1.4" fill="#cc5a7a" fill-opacity="0.15" stroke="#cc5a7a" stroke-opacity="0.25" stroke-width="0.6"/>
<circle cx="175.68" cy="228.30" r="1.4" fill="#cc5a7a" fill-opacity="0.15" stroke="#cc5a7a" stroke-opacity="0.25" stroke-width="0.6"/>
<circle cx="175.04" cy="202.79" r="1.4" fill="#cc5a7a" fill-opacity="0.15" stroke="#cc5a7a" stroke-opacity="0.25" stroke-width="0.6"/>
<circle cx="166.06" cy="242.46" r="1.4" fill="#cc5a7a" fill-opacity="0.15" stroke="#cc5a7a" stroke-opacity="0.25" stroke-width="0.6"/>
<circle cx="174.96" cy="223.16" r="1.4" fill="#cc5a7a" fill-opacity="0.15" stroke="#cc5a7a" stroke-opacity="0.25" stroke-width="0.6"/>
<circle cx="179.63" cy="232.49" r="1.4" fill="#cc5a7a" fill-opacity="0.15" stroke="#cc5a7a" stroke-opacity="0.25" stroke-width="0.6"/>
<circle cx="173.72" cy="234.13" r="1.4" fill="#cc5a7a" fill-opacity="0.15" stroke="#cc5a7a" stroke-opacity="0.25" stroke-width="0.6"/>
<circle cx="184.83" cy="238.33" r="1.4" fill="#cc5a7a" fill-opacity="0.15" stroke="#cc5a7a" stroke-opacity="0.25" stroke-width="0.6"/>
<circle cx="179.13" cy="236.24" r="1.4" fill="#cc5a7a" fill-opacity="0.15" stroke="#cc5a7a" stroke-opacity="0.25" stroke-width="0.6"/>
<circle cx="177.73" cy="227.51" r="1.4" fill="#cc5a7a" fill-opacity="0.15" stroke="#cc5a7a" stroke-opacity="0.25" stroke-width="0.6"/>
<circle cx="173.62" cy="238.28" r="1.4" fill="#cc5a7a" fill-opacity="0.15" stroke="#cc5a7a" stroke-opacity="0.25" stroke-width="0.6"/>
<circle cx="172.90" cy="253.46" r="1.4" fill="#cc5a7a" fill-opacity="0.15" stroke="#cc5a7a" stroke-opacity="0.25" stroke-width="0.6"/>
<circle cx="175.56" cy="194.05" r="1.4" fill="#cc5a7a" fill-opacity="0.15" stroke="#cc5a7a" stroke-opacity="0.25" stroke-width="0.6"/>
<circle cx="176.06" cy="254.24" r="1.4" fill="#cc5a7a" fill-opacity="0.15" stroke="#cc5a7a" stroke-opacity="0.25" stroke-width="0.6"/>
<circle cx="169.60" cy="236.55" r="1.4" fill="#cc5a7a" fill-opacity="0.15" stroke="#cc5a7a" stroke-opacity="0.25" stroke-width="0.6"/>
<circle cx="179.37" cy="232.70" r="1.4" fill="#cc5a7a" fill-opacity="0.15" stroke="#cc5a7a" stroke-opacity="0.25" stroke-width="0.6"/>
<circle cx="176.64" cy="213.40" r="1.4" fill="#cc5a7a" fill-opacity="0.15" stroke="#cc5a7a" stroke-opacity="0.25" stroke-width="0.6"/>
<circle cx="175.18" cy="258.57" r="1.4" fill="#cc5a7a" fill-opacity="0.15" stroke="#cc5a7a" stroke-opacity="0.25" stroke-width="0.6"/>
<circle cx="175.36" cy="257.48" r="1.4" fill="#cc5a7a" fill-opacity="0.15" stroke="#cc5a7a" stroke-opacity="0.25" stroke-width="0.6"/>
<circle cx="175.04" cy="201.98" r="1.4" fill="#cc5a7a" fill-opacity="0.15" stroke="#cc5a7a" stroke-opacity="0.25" stroke-width="0.6"/>
<circle cx="177.14" cy="254.77" r="1.4" fill="#cc5a7a" fill-opacity="0.15" stroke="#cc5a7a" stroke-opacity="0.25" stroke-width="0.6"/>
<circle cx="174.08" cy="221.78" r="1.4" fill="#cc5a7a" fill-opacity="0.15" stroke="#cc5a7a" stroke-opacity="0.25" stroke-width="0.6"/>
<circle cx="181.38" cy="237.85" r="1.4" fill="#cc5a7a" fill-opacity="0.15" stroke="#cc5a7a" stroke-opacity="0.25" stroke-width="0.6"/>
<circle cx="174.87" cy="225.42" r="1.4" fill="#cc5a7a" fill-opacity="0.15" stroke="#cc5a7a" stroke-opacity="0.25" stroke-width="0.6"/>
<circle cx="167.06" cy="240.82" r="1.4" fill="#cc5a7a" fill-opacity="0.15" stroke="#cc5a7a" stroke-opacity="0.25" stroke-width="0.6"/>
<circle cx="178.24" cy="231.04" r="1.4" fill="#cc5a7a" fill-opacity="0.15" stroke="#cc5a7a" stroke-opacity="0.25" stroke-width="0.6"/>
<circle cx="176.17" cy="200.06" r="1.4" fill="#cc5a7a" fill-opacity="0.15" stroke="#cc5a7a" stroke-opacity="0.25" stroke-width="0.6"/>
<circle cx="174.39" cy="198.80" r="1.4" fill="#cc5a7a" fill-opacity="0.15" stroke="#cc5a7a" stroke-opacity="0.25" stroke-width="0.6"/>
<circle cx="178.32" cy="243.72" r="1.4" fill="#cc5a7a" fill-opacity="0.15" stroke="#cc5a7a" stroke-opacity="0.25" stroke-width="0.6"/>
<circle cx="176.37" cy="233.98" r="1.4" fill="#cc5a7a" fill-opacity="0.15" stroke="#cc5a7a" stroke-opacity="0.25" stroke-width="0.6"/>
<circle cx="174.39" cy="238.12" r="1.4" fill="#cc5a7a" fill-opacity="0.15" stroke="#cc5a7a" stroke-opacity="0.25" stroke-width="0.6"/>
<circle cx="177.75" cy="237.98" r="1.4" fill="#cc5a7a" fill-opacity="0.15" stroke="#cc5a7a" stroke-opacity="0.25" stroke-width="0.6"/>
<circle cx="181.09" cy="239.99" r="1.4" fill="#cc5a7a" fill-opacity="0.15" stroke="#cc5a7a" stroke-opacity="0.25" stroke-width="0.6"/>
<circle cx="169.85" cy="249.91" r="1.4" fill="#cc5a7a" fill-opacity="0.15" stroke="#cc5a7a" stroke-opacity="0.25" stroke-width="0.6"/>
<circle cx="167.59" cy="239.22" r="1.4" fill="#cc5a7a" fill-opacity="0.15" stroke="#cc5a7a" stroke-opacity="0.25" stroke-width="0.6"/>
<circle cx="174.30" cy="237.55" r="1.4" fill="#cc5a7a" fill-opacity="0.15" stroke="#cc5a7a" stroke-opacity="0.25" stroke-width="0.6"/>
<circle cx="178.42" cy="240.48" r="1.4" fill="#cc5a7a" fill-opacity="0.15" stroke="#cc5a7a" stroke-opacity="0.25" stroke-width="0.6"/>
<circle cx="176.42" cy="208.54" r="1.4" fill="#cc5a7a" fill-opacity="0.15" stroke="#cc5a7a" stroke-opacity="0.25" stroke-width="0.6"/>
<circle cx="175.49" cy="240.49" r="1.4" fill="#cc5a7a" fill-opacity="0.15" stroke="#cc5a7a" stroke-opacity="0.25" stroke-width="0.6"/>
<circle cx="169.44" cy="237.00" r="1.4" fill="#cc5a7a" fill-opacity="0.15" stroke="#cc5a7a" stroke-opacity="0.25" stroke-width="0.6"/>
<circle cx="177.76" cy="252.98" r="1.4" fill="#cc5a7a" fill-opacity="0.15" stroke="#cc5a7a" stroke-opacity="0.25" stroke-width="0.6"/>
<circle cx="182.58" cy="250.72" r="1.4" fill="#cc5a7a" fill-opacity="0.15" stroke="#cc5a7a" stroke-opacity="0.25" stroke-width="0.6"/>
<circle cx="184.39" cy="240.72" r="1.4" fill="#cc5a7a" fill-opacity="0.15" stroke="#cc5a7a" stroke-opacity="0.25" stroke-width="0.6"/>
<circle cx="177.52" cy="223.25" r="1.4" fill="#cc5a7a" fill-opacity="0.15" stroke="#cc5a7a" stroke-opacity="0.25" stroke-width="0.6"/>
<circle cx="176.30" cy="204.73" r="1.4" fill="#cc5a7a" fill-opacity="0.15" stroke="#cc5a7a" stroke-opacity="0.25" stroke-width="0.6"/>
<circle cx="174.33" cy="221.89" r="1.4" fill="#cc5a7a" fill-opacity="0.15" stroke="#cc5a7a" stroke-opacity="0.25" stroke-width="0.6"/>
<circle cx="175.43" cy="250.67" r="1.4" fill="#cc5a7a" fill-opacity="0.15" stroke="#cc5a7a" stroke-opacity="0.25" stroke-width="0.6"/>
<circle cx="174.33" cy="254.96" r="1.4" fill="#cc5a7a" fill-opacity="0.15" stroke="#cc5a7a" stroke-opacity="0.25" stroke-width="0.6"/>
<circle cx="165.40" cy="240.08" r="1.4" fill="#cc5a7a" fill-opacity="0.15" stroke="#cc5a7a" stroke-opacity="0.25" stroke-width="0.6"/>
<circle cx="177.70" cy="225.36" r="1.4" fill="#cc5a7a" fill-opacity="0.15" stroke="#cc5a7a" stroke-opacity="0.25" stroke-width="0.6"/>
<circle cx="168.14" cy="246.76" r="1.4" fill="#cc5a7a" fill-opacity="0.15" stroke="#cc5a7a" stroke-opacity="0.25" stroke-width="0.6"/>
<circle cx="175.93" cy="249.57" r="1.4" fill="#cc5a7a" fill-opacity="0.15" stroke="#cc5a7a" stroke-opacity="0.25" stroke-width="0.6"/>
<circle cx="183.86" cy="244.89" r="1.4" fill="#cc5a7a" fill-opacity="0.15" stroke="#cc5a7a" stroke-opacity="0.25" stroke-width="0.6"/>
<circle cx="184.14" cy="242.40" r="1.4" fill="#cc5a7a" fill-opacity="0.15" stroke="#cc5a7a" stroke-opacity="0.25" stroke-width="0.6"/>
<circle cx="175.91" cy="212.18" r="1.4" fill="#cc5a7a" fill-opacity="0.15" stroke="#cc5a7a" stroke-opacity="0.25" stroke-width="0.6"/>
<circle cx="171.33" cy="237.33" r="1.4" fill="#cc5a7a" fill-opacity="0.15" stroke="#cc5a7a" stroke-opacity="0.25" stroke-width="0.6"/>
<circle cx="175.32" cy="262.76" r="1.4" fill="#cc5a7a" fill-opacity="0.15" stroke="#cc5a7a" stroke-opacity="0.25" stroke-width="0.6"/>
<circle cx="169.47" cy="249.33" r="1.4" fill="#cc5a7a" fill-opacity="0.15" stroke="#cc5a7a" stroke-opacity="0.25" stroke-width="0.6"/>
<circle cx="181.56" cy="248.36" r="1.4" fill="#cc5a7a" fill-opacity="0.15" stroke="#cc5a7a" stroke-opacity="0.25" stroke-width="0.6"/>
<circle cx="179.13" cy="231.52" r="1.4" fill="#cc5a7a" fill-opacity="0.15" stroke="#cc5a7a" stroke-opacity="0.25" stroke-width="0.6"/>
<circle cx="171.09" cy="243.84" r="1.4" fill="#cc5a7a" fill-opacity="0.15" stroke="#cc5a7a" stroke-opacity="0.25" stroke-width="0.6"/>
<circle cx="175.19" cy="191.53" r="1.4" fill="#cc5a7a" fill-opacity="0.15" stroke="#cc5a7a" stroke-opacity="0.25" stroke-width="0.6"/>
<circle cx="175.69" cy="244.28" r="1.4" fill="#cc5a7a" fill-opacity="0.15" stroke="#cc5a7a" stroke-opacity="0.25" stroke-width="0.6"/>
<circle cx="173.68" cy="253.69" r="1.4" fill="#cc5a7a" fill-opacity="0.15" stroke="#cc5a7a" stroke-opacity="0.25" stroke-width="0.6"/>
<circle cx="164.28" cy="245.23" r="1.4" fill="#cc5a7a" fill-opacity="0.15" stroke="#cc5a7a" stroke-opacity="0.25" stroke-width="0.6"/>
<circle cx="173.20" cy="235.61" r="1.4" fill="#cc5a7a" fill-opacity="0.15" stroke="#cc5a7a" stroke-opacity="0.25" stroke-width="0.6"/>
<circle cx="175.97" cy="229.71" r="1.4" fill="#cc5a7a" fill-opacity="0.15" stroke="#cc5a7a" stroke-opacity="0.25" stroke-width="0.6"/>
<circle cx="175.25" cy="228.12" r="1.4" fill="#cc5a7a" fill-opacity="0.15" stroke="#cc5a7a" stroke-opacity="0.25" stroke-width="0.6"/>
<circle cx="174.26" cy="218.89" r="1.4" fill="#cc5a7a" fill-opacity="0.15" stroke="#cc5a7a" stroke-opacity="0.25" stroke-width="0.6"/>
<circle cx="176.04" cy="219.60" r="1.4" fill="#cc5a7a" fill-opacity="0.15" stroke="#cc5a7a" stroke-opacity="0.25" stroke-width="0.6"/>
<circle cx="174.55" cy="253.26" r="1.4" fill="#cc5a7a" fill-opacity="0.15" stroke="#cc5a7a" stroke-opacity="0.25" stroke-width="0.6"/>
<circle cx="176.52" cy="230.89" r="1.4" fill="#cc5a7a" fill-opacity="0.15" stroke="#cc5a7a" stroke-opacity="0.25" stroke-width="0.6"/>
<circle cx="178.73" cy="242.17" r="1.4" fill="#cc5a7a" fill-opacity="0.15" stroke="#cc5a7a" stroke-opacity="0.25" stroke-width="0.6"/>
<circle cx="180.01" cy="238.89" r="1.4" fill="#cc5a7a" fill-opacity="0.15" stroke="#cc5a7a" stroke-opacity="0.25" stroke-width="0.6"/>
<circle cx="172.14" cy="231.22" r="1.4" fill="#cc5a7a" fill-opacity="0.15" stroke="#cc5a7a" stroke-opacity="0.25" stroke-width="0.6"/>
<circle cx="169.49" cy="241.54" r="1.4" fill="#cc5a7a" fill-opacity="0.15" stroke="#cc5a7a" stroke-opacity="0.25" stroke-width="0.6"/>
<circle cx="173.74" cy="203.46" r="1.4" fill="#cc5a7a" fill-opacity="0.15" stroke="#cc5a7a" stroke-opacity="0.25" stroke-width="0.6"/>
<circle cx="167.23" cy="242.76" r="1.4" fill="#cc5a7a" fill-opacity="0.15" stroke="#cc5a7a" stroke-opacity="0.25" stroke-width="0.6"/>
<circle cx="175.44" cy="227.03" r="1.4" fill="#cc5a7a" fill-opacity="0.15" stroke="#cc5a7a" stroke-opacity="0.25" stroke-width="0.6"/>
<circle cx="168.02" cy="245.34" r="1.4" fill="#cc5a7a" fill-opacity="0.15" stroke="#cc5a7a" stroke-opacity="0.25" stroke-width="0.6"/>
<circle cx="170.09" cy="233.86" r="1.4" fill="#cc5a7a" fill-opacity="0.15" stroke="#cc5a7a" stroke-opacity="0.25" stroke-width="0.6"/>
<circle cx="176.99" cy="253.78" r="1.4" fill="#cc5a7a" fill-opacity="0.15" stroke="#cc5a7a" stroke-opacity="0.25" stroke-width="0.6"/>
<circle cx="175.57" cy="193.19" r="1.4" fill="#cc5a7a" fill-opacity="0.15" stroke="#cc5a7a" stroke-opacity="0.25" stroke-width="0.6"/>
<circle cx="174.43" cy="239.24" r="1.4" fill="#cc5a7a" fill-opacity="0.15" stroke="#cc5a7a" stroke-opacity="0.25" stroke-width="0.6"/>
<circle cx="173.69" cy="229.23" r="1.4" fill="#cc5a7a" fill-opacity="0.15" stroke="#cc5a7a" stroke-opacity="0.25" stroke-width="0.6"/>
<circle cx="176.06" cy="198.29" r="1.4" fill="#cc5a7a" fill-opacity="0.15" stroke="#cc5a7a" stroke-opacity="0.25" stroke-width="0.6"/>
<circle cx="206.76" cy="236.72" r="1.4" fill="#6e5a8a" fill-opacity="0.21" stroke="#6e5a8a" stroke-opacity="0.35" stroke-width="0.6"/>
<circle cx="201.63" cy="223.50" r="1.4" fill="#6e5a8a" fill-opacity="0.21" stroke="#6e5a8a" stroke-opacity="0.35" stroke-width="0.6"/>
<circle cx="198.56" cy="239.29" r="1.4" fill="#6e5a8a" fill-opacity="0.21" stroke="#6e5a8a" stroke-opacity="0.35" stroke-width="0.6"/>
<circle cx="196.10" cy="235.51" r="1.4" fill="#6e5a8a" fill-opacity="0.21" stroke="#6e5a8a" stroke-opacity="0.35" stroke-width="0.6"/>
<circle cx="200.24" cy="241.62" r="1.4" fill="#6e5a8a" fill-opacity="0.21" stroke="#6e5a8a" stroke-opacity="0.35" stroke-width="0.6"/>
<circle cx="206.04" cy="222.24" r="1.4" fill="#6e5a8a" fill-opacity="0.21" stroke="#6e5a8a" stroke-opacity="0.35" stroke-width="0.6"/>
<circle cx="209.31" cy="238.00" r="1.4" fill="#6e5a8a" fill-opacity="0.21" stroke="#6e5a8a" stroke-opacity="0.35" stroke-width="0.6"/>
<circle cx="208.58" cy="225.74" r="1.4" fill="#6e5a8a" fill-opacity="0.21" stroke="#6e5a8a" stroke-opacity="0.35" stroke-width="0.6"/>
<circle cx="205.96" cy="234.55" r="1.4" fill="#6e5a8a" fill-opacity="0.21" stroke="#6e5a8a" stroke-opacity="0.35" stroke-width="0.6"/>
<circle cx="202.50" cy="246.78" r="1.4" fill="#6e5a8a" fill-opacity="0.21" stroke="#6e5a8a" stroke-opacity="0.35" stroke-width="0.6"/>
<circle cx="200.98" cy="236.73" r="1.4" fill="#6e5a8a" fill-opacity="0.21" stroke="#6e5a8a" stroke-opacity="0.35" stroke-width="0.6"/>
<circle cx="198.55" cy="237.67" r="1.4" fill="#6e5a8a" fill-opacity="0.21" stroke="#6e5a8a" stroke-opacity="0.35" stroke-width="0.6"/>
<circle cx="199.33" cy="220.60" r="1.4" fill="#6e5a8a" fill-opacity="0.21" stroke="#6e5a8a" stroke-opacity="0.35" stroke-width="0.6"/>
<circle cx="199.27" cy="242.64" r="1.4" fill="#6e5a8a" fill-opacity="0.21" stroke="#6e5a8a" stroke-opacity="0.35" stroke-width="0.6"/>
<circle cx="201.62" cy="210.43" r="1.4" fill="#6e5a8a" fill-opacity="0.21" stroke="#6e5a8a" stroke-opacity="0.35" stroke-width="0.6"/>
<circle cx="200.03" cy="214.34" r="1.4" fill="#6e5a8a" fill-opacity="0.21" stroke="#6e5a8a" stroke-opacity="0.35" stroke-width="0.6"/>
<circle cx="206.45" cy="236.51" r="1.4" fill="#6e5a8a" fill-opacity="0.21" stroke="#6e5a8a" stroke-opacity="0.35" stroke-width="0.6"/>
<circle cx="204.07" cy="237.16" r="1.4" fill="#6e5a8a" fill-opacity="0.21" stroke="#6e5a8a" stroke-opacity="0.35" stroke-width="0.6"/>
<circle cx="207.94" cy="227.35" r="1.4" fill="#6e5a8a" fill-opacity="0.21" stroke="#6e5a8a" stroke-opacity="0.35" stroke-width="0.6"/>
<circle cx="205.46" cy="241.67" r="1.4" fill="#6e5a8a" fill-opacity="0.21" stroke="#6e5a8a" stroke-opacity="0.35" stroke-width="0.6"/>
<circle cx="199.79" cy="243.44" r="1.4" fill="#6e5a8a" fill-opacity="0.21" stroke="#6e5a8a" stroke-opacity="0.35" stroke-width="0.6"/>
<circle cx="199.26" cy="219.30" r="1.4" fill="#6e5a8a" fill-opacity="0.21" stroke="#6e5a8a" stroke-opacity="0.35" stroke-width="0.6"/>
<circle cx="203.94" cy="241.09" r="1.4" fill="#6e5a8a" fill-opacity="0.21" stroke="#6e5a8a" stroke-opacity="0.35" stroke-width="0.6"/>
<circle cx="199.45" cy="240.43" r="1.4" fill="#6e5a8a" fill-opacity="0.21" stroke="#6e5a8a" stroke-opacity="0.35" stroke-width="0.6"/>
<circle cx="203.43" cy="209.60" r="1.4" fill="#6e5a8a" fill-opacity="0.21" stroke="#6e5a8a" stroke-opacity="0.35" stroke-width="0.6"/>
<circle cx="201.80" cy="219.51" r="1.4" fill="#6e5a8a" fill-opacity="0.21" stroke="#6e5a8a" stroke-opacity="0.35" stroke-width="0.6"/>
<circle cx="202.02" cy="198.82" r="1.4" fill="#6e5a8a" fill-opacity="0.21" stroke="#6e5a8a" stroke-opacity="0.35" stroke-width="0.6"/>
<circle cx="198.64" cy="236.87" r="1.4" fill="#6e5a8a" fill-opacity="0.21" stroke="#6e5a8a" stroke-opacity="0.35" stroke-width="0.6"/>
<circle cx="203.04" cy="245.56" r="1.4" fill="#6e5a8a" fill-opacity="0.21" stroke="#6e5a8a" stroke-opacity="0.35" stroke-width="0.6"/>
<circle cx="200.37" cy="233.89" r="1.4" fill="#6e5a8a" fill-opacity="0.21" stroke="#6e5a8a" stroke-opacity="0.35" stroke-width="0.6"/>
<circle cx="199.13" cy="228.73" r="1.4" fill="#6e5a8a" fill-opacity="0.21" stroke="#6e5a8a" stroke-opacity="0.35" stroke-width="0.6"/>
<circle cx="196.52" cy="237.04" r="1.4" fill="#6e5a8a" fill-opacity="0.21" stroke="#6e5a8a" stroke-opacity="0.35" stroke-width="0.6"/>
<circle cx="205.82" cy="240.82" r="1.4" fill="#6e5a8a" fill-opacity="0.21" stroke="#6e5a8a" stroke-opacity="0.35" stroke-width="0.6"/>
<circle cx="200.69" cy="216.50" r="1.4" fill="#6e5a8a" fill-opacity="0.21" stroke="#6e5a8a" stroke-opacity="0.35" stroke-width="0.6"/>
<circle cx="193.77" cy="239.21" r="1.4" fill="#6e5a8a" fill-opacity="0.21" stroke="#6e5a8a" stroke-opacity="0.35" stroke-width="0.6"/>
<circle cx="208.89" cy="230.25" r="1.4" fill="#6e5a8a" fill-opacity="0.21" stroke="#6e5a8a" stroke-opacity="0.35" stroke-width="0.6"/>
<circle cx="201.37" cy="218.85" r="1.4" fill="#6e5a8a" fill-opacity="0.21" stroke="#6e5a8a" stroke-opacity="0.35" stroke-width="0.6"/>
<circle cx="208.25" cy="240.06" r="1.4" fill="#6e5a8a" fill-opacity="0.21" stroke="#6e5a8a" stroke-opacity="0.35" stroke-width="0.6"/>
<circle cx="204.64" cy="223.84" r="1.4" fill="#6e5a8a" fill-opacity="0.21" stroke="#6e5a8a" stroke-opacity="0.35" stroke-width="0.6"/>
<circle cx="205.33" cy="229.87" r="1.4" fill="#6e5a8a" fill-opacity="0.21" stroke="#6e5a8a" stroke-opacity="0.35" stroke-width="0.6"/>
<circle cx="203.05" cy="207.95" r="1.4" fill="#6e5a8a" fill-opacity="0.21" stroke="#6e5a8a" stroke-opacity="0.35" stroke-width="0.6"/>
<circle cx="200.00" cy="239.40" r="1.4" fill="#6e5a8a" fill-opacity="0.21" stroke="#6e5a8a" stroke-opacity="0.35" stroke-width="0.6"/>
<circle cx="210.03" cy="227.86" r="1.4" fill="#6e5a8a" fill-opacity="0.21" stroke="#6e5a8a" stroke-opacity="0.35" stroke-width="0.6"/>
<circle cx="200.49" cy="208.06" r="1.4" fill="#6e5a8a" fill-opacity="0.21" stroke="#6e5a8a" stroke-opacity="0.35" stroke-width="0.6"/>
<circle cx="204.92" cy="219.45" r="1.4" fill="#6e5a8a" fill-opacity="0.21" stroke="#6e5a8a" stroke-opacity="0.35" stroke-width="0.6"/>
<circle cx="210.83" cy="230.14" r="1.4" fill="#6e5a8a" fill-opacity="0.21" stroke="#6e5a8a" stroke-opacity="0.35" stroke-width="0.6"/>
<circle cx="202.56" cy="221.96" r="1.4" fill="#6e5a8a" fill-opacity="0.21" stroke="#6e5a8a" stroke-opacity="0.35" stroke-width="0.6"/>
<circle cx="205.00" cy="238.43" r="1.4" fill="#6e5a8a" fill-opacity="0.21" stroke="#6e5a8a" stroke-opacity="0.35" stroke-width="0.6"/>
<circle cx="196.61" cy="226.37" r="1.4" fill="#6e5a8a" fill-opacity="0.21" stroke="#6e5a8a" stroke-opacity="0.35" stroke-width="0.6"/>
<circle cx="205.25" cy="240.94" r="1.4" fill="#6e5a8a" fill-opacity="0.21" stroke="#6e5a8a" stroke-opacity="0.35" stroke-width="0.6"/>
<circle cx="203.78" cy="216.94" r="1.4" fill="#6e5a8a" fill-opacity="0.21" stroke="#6e5a8a" stroke-opacity="0.35" stroke-width="0.6"/>
<circle cx="201.45" cy="232.63" r="1.4" fill="#6e5a8a" fill-opacity="0.21" stroke="#6e5a8a" stroke-opacity="0.35" stroke-width="0.6"/>
<circle cx="199.65" cy="241.84" r="1.4" fill="#6e5a8a" fill-opacity="0.21" stroke="#6e5a8a" stroke-opacity="0.35" stroke-width="0.6"/>
<circle cx="206.77" cy="224.98" r="1.4" fill="#6e5a8a" fill-opacity="0.21" stroke="#6e5a8a" stroke-opacity="0.35" stroke-width="0.6"/>
<circle cx="201.01" cy="215.61" r="1.4" fill="#6e5a8a" fill-opacity="0.21" stroke="#6e5a8a" stroke-opacity="0.35" stroke-width="0.6"/>
<circle cx="197.08" cy="226.02" r="1.4" fill="#6e5a8a" fill-opacity="0.21" stroke="#6e5a8a" stroke-opacity="0.35" stroke-width="0.6"/>
<circle cx="209.62" cy="225.69" r="1.4" fill="#6e5a8a" fill-opacity="0.21" stroke="#6e5a8a" stroke-opacity="0.35" stroke-width="0.6"/>
<circle cx="211.33" cy="237.20" r="1.4" fill="#6e5a8a" fill-opacity="0.21" stroke="#6e5a8a" stroke-opacity="0.35" stroke-width="0.6"/>
<circle cx="204.43" cy="209.88" r="1.4" fill="#6e5a8a" fill-opacity="0.21" stroke="#6e5a8a" stroke-opacity="0.35" stroke-width="0.6"/>
<circle cx="201.26" cy="239.50" r="1.4" fill="#6e5a8a" fill-opacity="0.21" stroke="#6e5a8a" stroke-opacity="0.35" stroke-width="0.6"/>
<circle cx="199.73" cy="219.83" r="1.4" fill="#6e5a8a" fill-opacity="0.21" stroke="#6e5a8a" stroke-opacity="0.35" stroke-width="0.6"/>
<circle cx="199.02" cy="220.37" r="1.4" fill="#6e5a8a" fill-opacity="0.21" stroke="#6e5a8a" stroke-opacity="0.35" stroke-width="0.6"/>
<circle cx="205.93" cy="227.79" r="1.4" fill="#6e5a8a" fill-opacity="0.21" stroke="#6e5a8a" stroke-opacity="0.35" stroke-width="0.6"/>
<circle cx="201.48" cy="230.39" r="1.4" fill="#6e5a8a" fill-opacity="0.21" stroke="#6e5a8a" stroke-opacity="0.35" stroke-width="0.6"/>
<circle cx="201.83" cy="214.92" r="1.4" fill="#6e5a8a" fill-opacity="0.21" stroke="#6e5a8a" stroke-opacity="0.35" stroke-width="0.6"/>
<circle cx="200.93" cy="238.01" r="1.4" fill="#6e5a8a" fill-opacity="0.21" stroke="#6e5a8a" stroke-opacity="0.35" stroke-width="0.6"/>
<circle cx="200.53" cy="233.25" r="1.4" fill="#6e5a8a" fill-opacity="0.21" stroke="#6e5a8a" stroke-opacity="0.35" stroke-width="0.6"/>
<circle cx="205.21" cy="221.47" r="1.4" fill="#6e5a8a" fill-opacity="0.21" stroke="#6e5a8a" stroke-opacity="0.35" stroke-width="0.6"/>
<circle cx="208.37" cy="238.93" r="1.4" fill="#6e5a8a" fill-opacity="0.21" stroke="#6e5a8a" stroke-opacity="0.35" stroke-width="0.6"/>
<circle cx="201.31" cy="235.86" r="1.4" fill="#6e5a8a" fill-opacity="0.21" stroke="#6e5a8a" stroke-opacity="0.35" stroke-width="0.6"/>
<circle cx="196.57" cy="225.53" r="1.4" fill="#6e5a8a" fill-opacity="0.21" stroke="#6e5a8a" stroke-opacity="0.35" stroke-width="0.6"/>
<circle cx="206.52" cy="228.25" r="1.4" fill="#6e5a8a" fill-opacity="0.21" stroke="#6e5a8a" stroke-opacity="0.35" stroke-width="0.6"/>
<circle cx="200.61" cy="234.11" r="1.4" fill="#6e5a8a" fill-opacity="0.21" stroke="#6e5a8a" stroke-opacity="0.35" stroke-width="0.6"/>
<circle cx="200.36" cy="229.12" r="1.4" fill="#6e5a8a" fill-opacity="0.21" stroke="#6e5a8a" stroke-opacity="0.35" stroke-width="0.6"/>
<circle cx="195.47" cy="236.15" r="1.4" fill="#6e5a8a" fill-opacity="0.21" stroke="#6e5a8a" stroke-opacity="0.35" stroke-width="0.6"/>
<circle cx="199.86" cy="235.32" r="1.4" fill="#6e5a8a" fill-opacity="0.21" stroke="#6e5a8a" stroke-opacity="0.35" stroke-width="0.6"/>
<circle cx="192.04" cy="230.73" r="1.4" fill="#6e5a8a" fill-opacity="0.21" stroke="#6e5a8a" stroke-opacity="0.35" stroke-width="0.6"/>
<circle cx="208.63" cy="231.29" r="1.4" fill="#6e5a8a" fill-opacity="0.21" stroke="#6e5a8a" stroke-opacity="0.35" stroke-width="0.6"/>
<circle cx="200.84" cy="244.56" r="1.4" fill="#6e5a8a" fill-opacity="0.21" stroke="#6e5a8a" stroke-opacity="0.35" stroke-width="0.6"/>
<circle cx="207.17" cy="233.04" r="1.4" fill="#6e5a8a" fill-opacity="0.21" stroke="#6e5a8a" stroke-opacity="0.35" stroke-width="0.6"/>
<circle cx="209.67" cy="231.08" r="1.4" fill="#6e5a8a" fill-opacity="0.21" stroke="#6e5a8a" stroke-opacity="0.35" stroke-width="0.6"/>
<circle cx="212.33" cy="230.85" r="1.4" fill="#6e5a8a" fill-opacity="0.21" stroke="#6e5a8a" stroke-opacity="0.35" stroke-width="0.6"/>
<circle cx="201.54" cy="220.67" r="1.4" fill="#6e5a8a" fill-opacity="0.21" stroke="#6e5a8a" stroke-opacity="0.35" stroke-width="0.6"/>
<circle cx="210.64" cy="238.35" r="1.4" fill="#6e5a8a" fill-opacity="0.21" stroke="#6e5a8a" stroke-opacity="0.35" stroke-width="0.6"/>
<circle cx="198.57" cy="226.10" r="1.4" fill="#6e5a8a" fill-opacity="0.21" stroke="#6e5a8a" stroke-opacity="0.35" stroke-width="0.6"/>
<circle cx="200.69" cy="227.48" r="1.4" fill="#6e5a8a" fill-opacity="0.21" stroke="#6e5a8a" stroke-opacity="0.35" stroke-width="0.6"/>
<circle cx="199.24" cy="228.65" r="1.4" fill="#6e5a8a" fill-opacity="0.21" stroke="#6e5a8a" stroke-opacity="0.35" stroke-width="0.6"/>
<circle cx="204.83" cy="223.17" r="1.4" fill="#6e5a8a" fill-opacity="0.21" stroke="#6e5a8a" stroke-opacity="0.35" stroke-width="0.6"/>
<circle cx="201.27" cy="244.57" r="1.4" fill="#6e5a8a" fill-opacity="0.21" stroke="#6e5a8a" stroke-opacity="0.35" stroke-width="0.6"/>
<circle cx="198.09" cy="239.68" r="1.4" fill="#6e5a8a" fill-opacity="0.21" stroke="#6e5a8a" stroke-opacity="0.35" stroke-width="0.6"/>
<circle cx="203.80" cy="213.90" r="1.4" fill="#6e5a8a" fill-opacity="0.21" stroke="#6e5a8a" stroke-opacity="0.35" stroke-width="0.6"/>
<circle cx="203.67" cy="234.33" r="1.4" fill="#6e5a8a" fill-opacity="0.21" stroke="#6e5a8a" stroke-opacity="0.35" stroke-width="0.6"/>
<circle cx="201.18" cy="221.71" r="1.4" fill="#6e5a8a" fill-opacity="0.21" stroke="#6e5a8a" stroke-opacity="0.35" stroke-width="0.6"/>
<circle cx="209.22" cy="235.36" r="1.4" fill="#6e5a8a" fill-opacity="0.21" stroke="#6e5a8a" stroke-opacity="0.35" stroke-width="0.6"/>
<circle cx="203.36" cy="229.40" r="1.4" fill="#6e5a8a" fill-opacity="0.21" stroke="#6e5a8a" stroke-opacity="0.35" stroke-width="0.6"/>
<circle cx="201.61" cy="212.74" r="1.4" fill="#6e5a8a" fill-opacity="0.21" stroke="#6e5a8a" stroke-opacity="0.35" stroke-width="0.6"/>
<circle cx="200.94" cy="241.00" r="1.4" fill="#6e5a8a" fill-opacity="0.21" stroke="#6e5a8a" stroke-opacity="0.35" stroke-width="0.6"/>
<circle cx="199.36" cy="222.66" r="1.4" fill="#6e5a8a" fill-opacity="0.21" stroke="#6e5a8a" stroke-opacity="0.35" stroke-width="0.6"/>
<circle cx="202.17" cy="196.22" r="1.4" fill="#6e5a8a" fill-opacity="0.21" stroke="#6e5a8a" stroke-opacity="0.35" stroke-width="0.6"/>
<circle cx="202.11" cy="222.54" r="1.4" fill="#6e5a8a" fill-opacity="0.21" stroke="#6e5a8a" stroke-opacity="0.35" stroke-width="0.6"/>
<circle cx="205.60" cy="228.59" r="1.4" fill="#6e5a8a" fill-opacity="0.21" stroke="#6e5a8a" stroke-opacity="0.35" stroke-width="0.6"/>
<circle cx="208.56" cy="227.47" r="1.4" fill="#6e5a8a" fill-opacity="0.21" stroke="#6e5a8a" stroke-opacity="0.35" stroke-width="0.6"/>
<circle cx="203.41" cy="204.49" r="1.4" fill="#6e5a8a" fill-opacity="0.21" stroke="#6e5a8a" stroke-opacity="0.35" stroke-width="0.6"/>
<circle cx="207.57" cy="238.91" r="1.4" fill="#6e5a8a" fill-opacity="0.21" stroke="#6e5a8a" stroke-opacity="0.35" stroke-width="0.6"/>
<circle cx="191.48" cy="233.87" r="1.4" fill="#6e5a8a" fill-opacity="0.21" stroke="#6e5a8a" stroke-opacity="0.35" stroke-width="0.6"/>
<circle cx="201.59" cy="245.22" r="1.4" fill="#6e5a8a" fill-opacity="0.21" stroke="#6e5a8a" stroke-opacity="0.35" stroke-width="0.6"/>
<circle cx="201.13" cy="209.64" r="1.4" fill="#6e5a8a" fill-opacity="0.21" stroke="#6e5a8a" stroke-opacity="0.35" stroke-width="0.6"/>
<circle cx="196.32" cy="238.58" r="1.4" fill="#6e5a8a" fill-opacity="0.21" stroke="#6e5a8a" stroke-opacity="0.35" stroke-width="0.6"/>
<circle cx="199.83" cy="242.83" r="1.4" fill="#6e5a8a" fill-opacity="0.21" stroke="#6e5a8a" stroke-opacity="0.35" stroke-width="0.6"/>
<circle cx="204.71" cy="242.21" r="1.4" fill="#6e5a8a" fill-opacity="0.21" stroke="#6e5a8a" stroke-opacity="0.35" stroke-width="0.6"/>
<circle cx="208.51" cy="236.11" r="1.4" fill="#6e5a8a" fill-opacity="0.21" stroke="#6e5a8a" stroke-opacity="0.35" stroke-width="0.6"/>
<circle cx="204.65" cy="240.48" r="1.4" fill="#6e5a8a" fill-opacity="0.21" stroke="#6e5a8a" stroke-opacity="0.35" stroke-width="0.6"/>
<circle cx="200.92" cy="231.87" r="1.4" fill="#6e5a8a" fill-opacity="0.21" stroke="#6e5a8a" stroke-opacity="0.35" stroke-width="0.6"/>
<circle cx="200.28" cy="242.16" r="1.4" fill="#6e5a8a" fill-opacity="0.21" stroke="#6e5a8a" stroke-opacity="0.35" stroke-width="0.6"/>
<circle cx="202.24" cy="221.64" r="1.4" fill="#6e5a8a" fill-opacity="0.21" stroke="#6e5a8a" stroke-opacity="0.35" stroke-width="0.6"/>
<circle cx="201.32" cy="204.13" r="1.4" fill="#6e5a8a" fill-opacity="0.21" stroke="#6e5a8a" stroke-opacity="0.35" stroke-width="0.6"/>
<circle cx="203.18" cy="230.26" r="1.4" fill="#6e5a8a" fill-opacity="0.21" stroke="#6e5a8a" stroke-opacity="0.35" stroke-width="0.6"/>
<circle cx="206.05" cy="240.74" r="1.4" fill="#6e5a8a" fill-opacity="0.21" stroke="#6e5a8a" stroke-opacity="0.35" stroke-width="0.6"/>
<circle cx="205.92" cy="229.67" r="1.4" fill="#6e5a8a" fill-opacity="0.21" stroke="#6e5a8a" stroke-opacity="0.35" stroke-width="0.6"/>
<circle cx="201.31" cy="240.66" r="1.4" fill="#6e5a8a" fill-opacity="0.21" stroke="#6e5a8a" stroke-opacity="0.35" stroke-width="0.6"/>
<circle cx="68.14" cy="126.80" r="1.5" fill="#ff9ca2" fill-opacity="0.30" stroke="#ff9ca2" stroke-opacity="0.35" stroke-width="0.6"/>
<circle cx="66.72" cy="133.30" r="1.5" fill="#ff9ca2" fill-opacity="0.30" stroke="#ff9ca2" stroke-opacity="0.35" stroke-width="0.6"/>
<circle cx="67.62" cy="146.40" r="1.5" fill="#ff9ca2" fill-opacity="0.30" stroke="#ff9ca2" stroke-opacity="0.35" stroke-width="0.6"/>
<circle cx="67.62" cy="149.00" r="1.5" fill="#ff9ca2" fill-opacity="0.30" stroke="#ff9ca2" stroke-opacity="0.35" stroke-width="0.6"/>
<circle cx="66.65" cy="155.60" r="1.5" fill="#ff9ca2" fill-opacity="0.30" stroke="#ff9ca2" stroke-opacity="0.35" stroke-width="0.6"/>
<circle cx="67.58" cy="158.20" r="1.5" fill="#ff9ca2" fill-opacity="0.30" stroke="#ff9ca2" stroke-opacity="0.35" stroke-width="0.6"/>
<circle cx="67.69" cy="164.70" r="1.5" fill="#ff9ca2" fill-opacity="0.30" stroke="#ff9ca2" stroke-opacity="0.35" stroke-width="0.6"/>
<circle cx="68.09" cy="171.30" r="1.5" fill="#ff9ca2" fill-opacity="0.30" stroke="#ff9ca2" stroke-opacity="0.35" stroke-width="0.6"/>
<circle cx="67.13" cy="174.00" r="1.5" fill="#ff9ca2" fill-opacity="0.30" stroke="#ff9ca2" stroke-opacity="0.35" stroke-width="0.6"/>
<circle cx="68.17" cy="176.50" r="1.5" fill="#ff9ca2" fill-opacity="0.30" stroke="#ff9ca2" stroke-opacity="0.35" stroke-width="0.6"/>
<circle cx="67.42" cy="179.00" r="1.5" fill="#ff9ca2" fill-opacity="0.30" stroke="#ff9ca2" stroke-opacity="0.35" stroke-width="0.6"/>
<circle cx="67.38" cy="181.70" r="1.5" fill="#ff9ca2" fill-opacity="0.30" stroke="#ff9ca2" stroke-opacity="0.35" stroke-width="0.6"/>
<circle cx="68.04" cy="187.00" r="1.5" fill="#ff9ca2" fill-opacity="0.30" stroke="#ff9ca2" stroke-opacity="0.35" stroke-width="0.6"/>
<circle cx="66.65" cy="190.90" r="1.5" fill="#ff9ca2" fill-opacity="0.30" stroke="#ff9ca2" stroke-opacity="0.35" stroke-width="0.6"/>
<circle cx="67.75" cy="196.00" r="1.5" fill="#ff9ca2" fill-opacity="0.30" stroke="#ff9ca2" stroke-opacity="0.35" stroke-width="0.6"/>
<circle cx="67.60" cy="198.50" r="1.5" fill="#ff9ca2" fill-opacity="0.30" stroke="#ff9ca2" stroke-opacity="0.35" stroke-width="0.6"/>
<circle cx="67.14" cy="201.00" r="1.5" fill="#ff9ca2" fill-opacity="0.30" stroke="#ff9ca2" stroke-opacity="0.35" stroke-width="0.6"/>
<circle cx="67.98" cy="203.50" r="1.5" fill="#ff9ca2" fill-opacity="0.30" stroke="#ff9ca2" stroke-opacity="0.35" stroke-width="0.6"/>
<circle cx="67.19" cy="206.00" r="1.5" fill="#ff9ca2" fill-opacity="0.30" stroke="#ff9ca2" stroke-opacity="0.35" stroke-width="0.6"/>
<circle cx="67.36" cy="208.50" r="1.5" fill="#ff9ca2" fill-opacity="0.30" stroke="#ff9ca2" stroke-opacity="0.35" stroke-width="0.6"/>
<circle cx="67.44" cy="262.50" r="1.5" fill="#ff9ca2" fill-opacity="0.30" stroke="#ff9ca2" stroke-opacity="0.35" stroke-width="0.6"/>
<circle cx="67.83" cy="270.00" r="1.5" fill="#ff9ca2" fill-opacity="0.30" stroke="#ff9ca2" stroke-opacity="0.35" stroke-width="0.6"/>
<circle cx="66.94" cy="272.50" r="1.5" fill="#ff9ca2" fill-opacity="0.30" stroke="#ff9ca2" stroke-opacity="0.35" stroke-width="0.6"/>
<circle cx="67.30" cy="275.00" r="1.5" fill="#ff9ca2" fill-opacity="0.30" stroke="#ff9ca2" stroke-opacity="0.35" stroke-width="0.6"/>
<circle cx="67.28" cy="278.00" r="1.5" fill="#ff9ca2" fill-opacity="0.30" stroke="#ff9ca2" stroke-opacity="0.35" stroke-width="0.6"/>
<circle cx="94.59" cy="130.70" r="1.5" fill="#a9d6cb" fill-opacity="0.34" stroke="#a9d6cb" stroke-opacity="0.40" stroke-width="0.6"/>
<circle cx="95.02" cy="133.30" r="1.5" fill="#a9d6cb" fill-opacity="0.34" stroke="#a9d6cb" stroke-opacity="0.40" stroke-width="0.6"/>
<circle cx="94.17" cy="141.20" r="1.5" fill="#a9d6cb" fill-opacity="0.34" stroke="#a9d6cb" stroke-opacity="0.40" stroke-width="0.6"/>
<circle cx="95.02" cy="146.40" r="1.5" fill="#a9d6cb" fill-opacity="0.34" stroke="#a9d6cb" stroke-opacity="0.40" stroke-width="0.6"/>
<circle cx="94.35" cy="149.00" r="1.5" fill="#a9d6cb" fill-opacity="0.34" stroke="#a9d6cb" stroke-opacity="0.40" stroke-width="0.6"/>
<circle cx="94.51" cy="163.40" r="1.5" fill="#a9d6cb" fill-opacity="0.34" stroke="#a9d6cb" stroke-opacity="0.40" stroke-width="0.6"/>
<circle cx="94.13" cy="172.60" r="1.5" fill="#a9d6cb" fill-opacity="0.34" stroke="#a9d6cb" stroke-opacity="0.40" stroke-width="0.6"/>
<circle cx="94.51" cy="175.20" r="1.5" fill="#a9d6cb" fill-opacity="0.34" stroke="#a9d6cb" stroke-opacity="0.40" stroke-width="0.6"/>
<circle cx="95.26" cy="180.00" r="1.5" fill="#a9d6cb" fill-opacity="0.34" stroke="#a9d6cb" stroke-opacity="0.40" stroke-width="0.6"/>
<circle cx="94.75" cy="183.00" r="1.5" fill="#a9d6cb" fill-opacity="0.34" stroke="#a9d6cb" stroke-opacity="0.40" stroke-width="0.6"/>
<circle cx="94.97" cy="186.00" r="1.5" fill="#a9d6cb" fill-opacity="0.34" stroke="#a9d6cb" stroke-opacity="0.40" stroke-width="0.6"/>
<circle cx="94.23" cy="189.00" r="1.5" fill="#a9d6cb" fill-opacity="0.34" stroke="#a9d6cb" stroke-opacity="0.40" stroke-width="0.6"/>
<circle cx="94.21" cy="191.50" r="1.5" fill="#a9d6cb" fill-opacity="0.34" stroke="#a9d6cb" stroke-opacity="0.40" stroke-width="0.6"/>
<circle cx="94.18" cy="193.50" r="1.5" fill="#a9d6cb" fill-opacity="0.34" stroke="#a9d6cb" stroke-opacity="0.40" stroke-width="0.6"/>
<circle cx="94.64" cy="196.50" r="1.5" fill="#a9d6cb" fill-opacity="0.34" stroke="#a9d6cb" stroke-opacity="0.40" stroke-width="0.6"/>
<circle cx="94.72" cy="199.00" r="1.5" fill="#a9d6cb" fill-opacity="0.34" stroke="#a9d6cb" stroke-opacity="0.40" stroke-width="0.6"/>
<circle cx="94.95" cy="202.00" r="1.5" fill="#a9d6cb" fill-opacity="0.34" stroke="#a9d6cb" stroke-opacity="0.40" stroke-width="0.6"/>
<circle cx="93.76" cy="205.00" r="1.5" fill="#a9d6cb" fill-opacity="0.34" stroke="#a9d6cb" stroke-opacity="0.40" stroke-width="0.6"/>
<circle cx="94.86" cy="208.00" r="1.5" fill="#a9d6cb" fill-opacity="0.34" stroke="#a9d6cb" stroke-opacity="0.40" stroke-width="0.6"/>
<circle cx="95.12" cy="211.00" r="1.5" fill="#a9d6cb" fill-opacity="0.34" stroke="#a9d6cb" stroke-opacity="0.40" stroke-width="0.6"/>
<circle cx="94.57" cy="267.00" r="1.5" fill="#a9d6cb" fill-opacity="0.34" stroke="#a9d6cb" stroke-opacity="0.40" stroke-width="0.6"/>
<circle cx="93.78" cy="270.00" r="1.5" fill="#a9d6cb" fill-opacity="0.34" stroke="#a9d6cb" stroke-opacity="0.40" stroke-width="0.6"/>
<circle cx="94.18" cy="273.00" r="1.5" fill="#a9d6cb" fill-opacity="0.34" stroke="#a9d6cb" stroke-opacity="0.40" stroke-width="0.6"/>
<circle cx="120.51" cy="122.50" r="1.5" fill="#f5dc40" fill-opacity="0.47" stroke="#f5dc40" stroke-opacity="0.55" stroke-width="0.6"/>
<circle cx="120.80" cy="129.00" r="1.5" fill="#f5dc40" fill-opacity="0.47" stroke="#f5dc40" stroke-opacity="0.55" stroke-width="0.6"/>
<circle cx="121.97" cy="138.20" r="1.5" fill="#f5dc40" fill-opacity="0.47" stroke="#f5dc40" stroke-opacity="0.55" stroke-width="0.6"/>
<circle cx="121.47" cy="143.40" r="1.5" fill="#f5dc40" fill-opacity="0.47" stroke="#f5dc40" stroke-opacity="0.55" stroke-width="0.6"/>
<circle cx="121.55" cy="147.40" r="1.5" fill="#f5dc40" fill-opacity="0.47" stroke="#f5dc40" stroke-opacity="0.55" stroke-width="0.6"/>
<circle cx="121.76" cy="150.00" r="1.5" fill="#f5dc40" fill-opacity="0.47" stroke="#f5dc40" stroke-opacity="0.55" stroke-width="0.6"/>
<circle cx="121.96" cy="156.50" r="1.5" fill="#f5dc40" fill-opacity="0.47" stroke="#f5dc40" stroke-opacity="0.55" stroke-width="0.6"/>
<circle cx="121.48" cy="165.70" r="1.5" fill="#f5dc40" fill-opacity="0.47" stroke="#f5dc40" stroke-opacity="0.55" stroke-width="0.6"/>
<circle cx="121.49" cy="173.50" r="1.5" fill="#f5dc40" fill-opacity="0.47" stroke="#f5dc40" stroke-opacity="0.55" stroke-width="0.6"/>
<circle cx="121.50" cy="176.00" r="1.5" fill="#f5dc40" fill-opacity="0.47" stroke="#f5dc40" stroke-opacity="0.55" stroke-width="0.6"/>
<circle cx="121.61" cy="179.00" r="1.5" fill="#f5dc40" fill-opacity="0.47" stroke="#f5dc40" stroke-opacity="0.55" stroke-width="0.6"/>
<circle cx="121.45" cy="182.00" r="1.5" fill="#f5dc40" fill-opacity="0.47" stroke="#f5dc40" stroke-opacity="0.55" stroke-width="0.6"/>
<circle cx="121.59" cy="185.00" r="1.5" fill="#f5dc40" fill-opacity="0.47" stroke="#f5dc40" stroke-opacity="0.55" stroke-width="0.6"/>
<circle cx="120.84" cy="188.00" r="1.5" fill="#f5dc40" fill-opacity="0.47" stroke="#f5dc40" stroke-opacity="0.55" stroke-width="0.6"/>
<circle cx="121.57" cy="191.00" r="1.5" fill="#f5dc40" fill-opacity="0.47" stroke="#f5dc40" stroke-opacity="0.55" stroke-width="0.6"/>
<circle cx="121.23" cy="194.50" r="1.5" fill="#f5dc40" fill-opacity="0.47" stroke="#f5dc40" stroke-opacity="0.55" stroke-width="0.6"/>
<circle cx="121.72" cy="197.00" r="1.5" fill="#f5dc40" fill-opacity="0.47" stroke="#f5dc40" stroke-opacity="0.55" stroke-width="0.6"/>
<circle cx="120.66" cy="200.00" r="1.5" fill="#f5dc40" fill-opacity="0.47" stroke="#f5dc40" stroke-opacity="0.55" stroke-width="0.6"/>
<circle cx="120.79" cy="203.00" r="1.5" fill="#f5dc40" fill-opacity="0.47" stroke="#f5dc40" stroke-opacity="0.55" stroke-width="0.6"/>
<circle cx="120.56" cy="241.00" r="1.5" fill="#f5dc40" fill-opacity="0.47" stroke="#f5dc40" stroke-opacity="0.55" stroke-width="0.6"/>
<circle cx="121.74" cy="244.00" r="1.5" fill="#f5dc40" fill-opacity="0.47" stroke="#f5dc40" stroke-opacity="0.55" stroke-width="0.6"/>
<circle cx="121.96" cy="247.00" r="1.5" fill="#f5dc40" fill-opacity="0.47" stroke="#f5dc40" stroke-opacity="0.55" stroke-width="0.6"/>
<circle cx="148.65" cy="110.70" r="1.5" fill="#7fbfcc" fill-opacity="0.38" stroke="#7fbfcc" stroke-opacity="0.45" stroke-width="0.6"/>
<circle cx="148.19" cy="136.90" r="1.5" fill="#7fbfcc" fill-opacity="0.38" stroke="#7fbfcc" stroke-opacity="0.45" stroke-width="0.6"/>
<circle cx="148.92" cy="143.40" r="1.5" fill="#7fbfcc" fill-opacity="0.38" stroke="#7fbfcc" stroke-opacity="0.45" stroke-width="0.6"/>
<circle cx="148.86" cy="170.90" r="1.5" fill="#7fbfcc" fill-opacity="0.38" stroke="#7fbfcc" stroke-opacity="0.45" stroke-width="0.6"/>
<circle cx="148.50" cy="181.40" r="1.5" fill="#7fbfcc" fill-opacity="0.38" stroke="#7fbfcc" stroke-opacity="0.45" stroke-width="0.6"/>
<circle cx="148.01" cy="184.00" r="1.5" fill="#7fbfcc" fill-opacity="0.38" stroke="#7fbfcc" stroke-opacity="0.45" stroke-width="0.6"/>
<circle cx="148.08" cy="188.00" r="1.5" fill="#7fbfcc" fill-opacity="0.38" stroke="#7fbfcc" stroke-opacity="0.45" stroke-width="0.6"/>
<circle cx="148.27" cy="193.20" r="1.5" fill="#7fbfcc" fill-opacity="0.38" stroke="#7fbfcc" stroke-opacity="0.45" stroke-width="0.6"/>
<circle cx="148.11" cy="197.00" r="1.5" fill="#7fbfcc" fill-opacity="0.38" stroke="#7fbfcc" stroke-opacity="0.45" stroke-width="0.6"/>
<circle cx="148.29" cy="200.00" r="1.5" fill="#7fbfcc" fill-opacity="0.38" stroke="#7fbfcc" stroke-opacity="0.45" stroke-width="0.6"/>
<circle cx="148.63" cy="203.00" r="1.5" fill="#7fbfcc" fill-opacity="0.38" stroke="#7fbfcc" stroke-opacity="0.45" stroke-width="0.6"/>
<circle cx="149.09" cy="206.00" r="1.5" fill="#7fbfcc" fill-opacity="0.38" stroke="#7fbfcc" stroke-opacity="0.45" stroke-width="0.6"/>
<circle cx="147.69" cy="209.00" r="1.5" fill="#7fbfcc" fill-opacity="0.38" stroke="#7fbfcc" stroke-opacity="0.45" stroke-width="0.6"/>
<circle cx="148.51" cy="212.00" r="1.5" fill="#7fbfcc" fill-opacity="0.38" stroke="#7fbfcc" stroke-opacity="0.45" stroke-width="0.6"/>
<circle cx="147.66" cy="276.00" r="1.5" fill="#7fbfcc" fill-opacity="0.38" stroke="#7fbfcc" stroke-opacity="0.45" stroke-width="0.6"/>
<circle cx="147.79" cy="279.00" r="1.5" fill="#7fbfcc" fill-opacity="0.38" stroke="#7fbfcc" stroke-opacity="0.45" stroke-width="0.6"/>
<circle cx="148.90" cy="282.50" r="1.5" fill="#7fbfcc" fill-opacity="0.38" stroke="#7fbfcc" stroke-opacity="0.45" stroke-width="0.6"/>
<circle cx="175.52" cy="112.30" r="1.5" fill="#cc5a7a" fill-opacity="0.42" stroke="#cc5a7a" stroke-opacity="0.50" stroke-width="0.6"/>
<circle cx="176.07" cy="140.80" r="1.5" fill="#cc5a7a" fill-opacity="0.42" stroke="#cc5a7a" stroke-opacity="0.50" stroke-width="0.6"/>
<circle cx="175.31" cy="146.60" r="1.5" fill="#cc5a7a" fill-opacity="0.42" stroke="#cc5a7a" stroke-opacity="0.50" stroke-width="0.6"/>
<circle cx="174.62" cy="153.10" r="1.5" fill="#cc5a7a" fill-opacity="0.42" stroke="#cc5a7a" stroke-opacity="0.50" stroke-width="0.6"/>
<circle cx="175.22" cy="156.50" r="1.5" fill="#cc5a7a" fill-opacity="0.42" stroke="#cc5a7a" stroke-opacity="0.50" stroke-width="0.6"/>
<circle cx="175.55" cy="169.60" r="1.5" fill="#cc5a7a" fill-opacity="0.42" stroke="#cc5a7a" stroke-opacity="0.50" stroke-width="0.6"/>
<circle cx="176.10" cy="185.30" r="1.5" fill="#cc5a7a" fill-opacity="0.42" stroke="#cc5a7a" stroke-opacity="0.50" stroke-width="0.6"/>
<circle cx="176.17" cy="188.00" r="1.5" fill="#cc5a7a" fill-opacity="0.42" stroke="#cc5a7a" stroke-opacity="0.50" stroke-width="0.6"/>
<circle cx="175.36" cy="190.50" r="1.5" fill="#cc5a7a" fill-opacity="0.42" stroke="#cc5a7a" stroke-opacity="0.50" stroke-width="0.6"/>
<circle cx="175.26" cy="194.50" r="1.5" fill="#cc5a7a" fill-opacity="0.42" stroke="#cc5a7a" stroke-opacity="0.50" stroke-width="0.6"/>
<circle cx="174.76" cy="197.00" r="1.5" fill="#cc5a7a" fill-opacity="0.42" stroke="#cc5a7a" stroke-opacity="0.50" stroke-width="0.6"/>
<circle cx="175.63" cy="200.00" r="1.5" fill="#cc5a7a" fill-opacity="0.42" stroke="#cc5a7a" stroke-opacity="0.50" stroke-width="0.6"/>
<circle cx="174.94" cy="203.00" r="1.5" fill="#cc5a7a" fill-opacity="0.42" stroke="#cc5a7a" stroke-opacity="0.50" stroke-width="0.6"/>
<circle cx="174.84" cy="205.00" r="1.5" fill="#cc5a7a" fill-opacity="0.42" stroke="#cc5a7a" stroke-opacity="0.50" stroke-width="0.6"/>
<circle cx="174.62" cy="207.00" r="1.5" fill="#cc5a7a" fill-opacity="0.42" stroke="#cc5a7a" stroke-opacity="0.50" stroke-width="0.6"/>
<circle cx="174.61" cy="209.00" r="1.5" fill="#cc5a7a" fill-opacity="0.42" stroke="#cc5a7a" stroke-opacity="0.50" stroke-width="0.6"/>
<circle cx="175.69" cy="211.00" r="1.5" fill="#cc5a7a" fill-opacity="0.42" stroke="#cc5a7a" stroke-opacity="0.50" stroke-width="0.6"/>
<circle cx="174.79" cy="213.00" r="1.5" fill="#cc5a7a" fill-opacity="0.42" stroke="#cc5a7a" stroke-opacity="0.50" stroke-width="0.6"/>
<circle cx="176.15" cy="270.00" r="1.5" fill="#cc5a7a" fill-opacity="0.42" stroke="#cc5a7a" stroke-opacity="0.50" stroke-width="0.6"/>
<circle cx="174.74" cy="273.00" r="1.5" fill="#cc5a7a" fill-opacity="0.42" stroke="#cc5a7a" stroke-opacity="0.50" stroke-width="0.6"/>
<circle cx="202.89" cy="110.70" r="1.5" fill="#6e5a8a" fill-opacity="0.47" stroke="#6e5a8a" stroke-opacity="0.55" stroke-width="0.6"/>
<circle cx="201.71" cy="143.40" r="1.5" fill="#6e5a8a" fill-opacity="0.47" stroke="#6e5a8a" stroke-opacity="0.55" stroke-width="0.6"/>
<circle cx="201.53" cy="150.50" r="1.5" fill="#6e5a8a" fill-opacity="0.47" stroke="#6e5a8a" stroke-opacity="0.55" stroke-width="0.6"/>
<circle cx="202.65" cy="155.70" r="1.5" fill="#6e5a8a" fill-opacity="0.47" stroke="#6e5a8a" stroke-opacity="0.55" stroke-width="0.6"/>
<circle cx="201.89" cy="157.30" r="1.5" fill="#6e5a8a" fill-opacity="0.47" stroke="#6e5a8a" stroke-opacity="0.55" stroke-width="0.6"/>
<circle cx="202.67" cy="164.40" r="1.5" fill="#6e5a8a" fill-opacity="0.47" stroke="#6e5a8a" stroke-opacity="0.55" stroke-width="0.6"/>
<circle cx="201.80" cy="166.20" r="1.5" fill="#6e5a8a" fill-opacity="0.47" stroke="#6e5a8a" stroke-opacity="0.55" stroke-width="0.6"/>
<circle cx="201.58" cy="168.30" r="1.5" fill="#6e5a8a" fill-opacity="0.47" stroke="#6e5a8a" stroke-opacity="0.55" stroke-width="0.6"/>
<circle cx="202.74" cy="170.90" r="1.5" fill="#6e5a8a" fill-opacity="0.47" stroke="#6e5a8a" stroke-opacity="0.55" stroke-width="0.6"/>
<circle cx="202.64" cy="173.50" r="1.5" fill="#6e5a8a" fill-opacity="0.47" stroke="#6e5a8a" stroke-opacity="0.55" stroke-width="0.6"/>
<circle cx="202.87" cy="180.00" r="1.5" fill="#6e5a8a" fill-opacity="0.47" stroke="#6e5a8a" stroke-opacity="0.55" stroke-width="0.6"/>
<circle cx="202.67" cy="182.70" r="1.5" fill="#6e5a8a" fill-opacity="0.47" stroke="#6e5a8a" stroke-opacity="0.55" stroke-width="0.6"/>
<circle cx="201.63" cy="185.30" r="1.5" fill="#6e5a8a" fill-opacity="0.47" stroke="#6e5a8a" stroke-opacity="0.55" stroke-width="0.6"/>
<circle cx="202.51" cy="188.00" r="1.5" fill="#6e5a8a" fill-opacity="0.47" stroke="#6e5a8a" stroke-opacity="0.55" stroke-width="0.6"/>
<circle cx="202.63" cy="189.80" r="1.5" fill="#6e5a8a" fill-opacity="0.47" stroke="#6e5a8a" stroke-opacity="0.55" stroke-width="0.6"/>
<circle cx="202.24" cy="193.00" r="1.5" fill="#6e5a8a" fill-opacity="0.47" stroke="#6e5a8a" stroke-opacity="0.55" stroke-width="0.6"/>
<circle cx="202.99" cy="196.00" r="1.5" fill="#6e5a8a" fill-opacity="0.47" stroke="#6e5a8a" stroke-opacity="0.55" stroke-width="0.6"/>
<circle cx="201.91" cy="199.00" r="1.5" fill="#6e5a8a" fill-opacity="0.47" stroke="#6e5a8a" stroke-opacity="0.55" stroke-width="0.6"/>
<circle cx="203.04" cy="202.00" r="1.5" fill="#6e5a8a" fill-opacity="0.47" stroke="#6e5a8a" stroke-opacity="0.55" stroke-width="0.6"/>
<circle cx="202.65" cy="205.00" r="1.5" fill="#6e5a8a" fill-opacity="0.47" stroke="#6e5a8a" stroke-opacity="0.55" stroke-width="0.6"/>
<circle cx="201.52" cy="208.00" r="1.5" fill="#6e5a8a" fill-opacity="0.47" stroke="#6e5a8a" stroke-opacity="0.55" stroke-width="0.6"/>
<circle cx="201.52" cy="211.00" r="1.5" fill="#6e5a8a" fill-opacity="0.47" stroke="#6e5a8a" stroke-opacity="0.55" stroke-width="0.6"/>
<circle cx="202.54" cy="214.00" r="1.5" fill="#6e5a8a" fill-opacity="0.47" stroke="#6e5a8a" stroke-opacity="0.55" stroke-width="0.6"/>
<circle cx="202.81" cy="217.00" r="1.5" fill="#6e5a8a" fill-opacity="0.47" stroke="#6e5a8a" stroke-opacity="0.55" stroke-width="0.6"/>
<circle cx="201.63" cy="220.00" r="1.5" fill="#6e5a8a" fill-opacity="0.47" stroke="#6e5a8a" stroke-opacity="0.55" stroke-width="0.6"/>
<circle cx="202.00" cy="266.60" r="1.5" fill="#6e5a8a" fill-opacity="0.47" stroke="#6e5a8a" stroke-opacity="0.55" stroke-width="0.6"/>
<line x1="67.25" y1="209.9" x2="67.25" y2="265.1" stroke="#2a2a2a" stroke-width="1"/>
<line x1="64.45" y1="209.9" x2="70.05" y2="209.9" stroke="#2a2a2a" stroke-width="1"/>
<line x1="64.45" y1="265.1" x2="70.05" y2="265.1" stroke="#2a2a2a" stroke-width="1"/>
<rect x="60.20" y="232.50" width="14.10" height="14.90" fill="#ffffff" stroke="#2a2a2a" stroke-width="1.0"/>
<line x1="60.20" y1="243.5" x2="74.30" y2="243.5" stroke="#2a2a2a" stroke-width="1.6"/>
<line x1="94.50" y1="212.0" x2="94.50" y2="265.9" stroke="#2a2a2a" stroke-width="1"/>
<line x1="91.70" y1="212.0" x2="97.30" y2="212.0" stroke="#2a2a2a" stroke-width="1"/>
<line x1="91.70" y1="265.9" x2="97.30" y2="265.9" stroke="#2a2a2a" stroke-width="1"/>
<rect x="87.40" y="233.70" width="14.20" height="14.50" fill="#ffffff" stroke="#2a2a2a" stroke-width="1.0"/>
<line x1="87.40" y1="243.5" x2="101.60" y2="243.5" stroke="#2a2a2a" stroke-width="1.6"/>
<line x1="121.15" y1="174.7" x2="121.15" y2="250.9" stroke="#2a2a2a" stroke-width="1"/>
<line x1="118.35" y1="174.7" x2="123.95" y2="174.7" stroke="#2a2a2a" stroke-width="1"/>
<line x1="118.35" y1="250.9" x2="123.95" y2="250.9" stroke="#2a2a2a" stroke-width="1"/>
<rect x="114.20" y="205.20" width="13.90" height="23.10" fill="#ffffff" stroke="#2a2a2a" stroke-width="1.0"/>
<line x1="114.20" y1="222.5" x2="128.10" y2="222.5" stroke="#2a2a2a" stroke-width="1.6"/>
<line x1="148.45" y1="213" x2="148.45" y2="274.5" stroke="#2a2a2a" stroke-width="1"/>
<line x1="145.65" y1="213" x2="151.25" y2="213" stroke="#2a2a2a" stroke-width="1"/>
<line x1="145.65" y1="274.5" x2="151.25" y2="274.5" stroke="#2a2a2a" stroke-width="1"/>
<rect x="141.30" y="237.60" width="14.30" height="15.90" fill="#ffffff" stroke="#2a2a2a" stroke-width="1.0"/>
<line x1="141.30" y1="248.3" x2="155.60" y2="248.3" stroke="#2a2a2a" stroke-width="1.6"/>
<line x1="175.45" y1="209.7" x2="175.45" y2="268.5" stroke="#2a2a2a" stroke-width="1"/>
<line x1="172.65" y1="209.7" x2="178.25" y2="209.7" stroke="#2a2a2a" stroke-width="1"/>
<line x1="172.65" y1="268.5" x2="178.25" y2="268.5" stroke="#2a2a2a" stroke-width="1"/>
<rect x="168.30" y="232.50" width="14.30" height="14.70" fill="#ffffff" stroke="#2a2a2a" stroke-width="1.0"/>
<line x1="168.30" y1="242.7" x2="182.60" y2="242.7" stroke="#2a2a2a" stroke-width="1.6"/>
<line x1="202.50" y1="203.4" x2="202.50" y2="247.0" stroke="#2a2a2a" stroke-width="1"/>
<line x1="199.70" y1="203.4" x2="205.30" y2="203.4" stroke="#2a2a2a" stroke-width="1"/>
<line x1="199.70" y1="247.0" x2="205.30" y2="247.0" stroke="#2a2a2a" stroke-width="1"/>
<rect x="195.20" y="223.30" width="14.60" height="14.60" fill="#ffffff" stroke="#2a2a2a" stroke-width="1.0"/>
<line x1="195.20" y1="232.4" x2="209.80" y2="232.4" stroke="#2a2a2a" stroke-width="1.6"/>
<line x1="67.40" y1="305.4" x2="67.40" y2="307.8" stroke="#333333" stroke-width="0.8"/>
<line x1="94.50" y1="305.4" x2="94.50" y2="307.8" stroke="#333333" stroke-width="0.8"/>
<line x1="121.30" y1="305.4" x2="121.30" y2="307.8" stroke="#333333" stroke-width="0.8"/>
<line x1="148.40" y1="305.4" x2="148.40" y2="307.8" stroke="#333333" stroke-width="0.8"/>
<line x1="175.40" y1="305.4" x2="175.40" y2="307.8" stroke="#333333" stroke-width="0.8"/>
<line x1="202.30" y1="305.4" x2="202.30" y2="307.8" stroke="#333333" stroke-width="0.8"/>
<g transform="translate(70.00,313.40) rotate(-45)">
<text x="0" y="0.00" font-size="6.45" text-anchor="end" fill="#2e2e2e" stroke="#2e2e2e" stroke-width="0.1">HeLa S3 - Rep #1</text>
</g>
<g transform="translate(97.10,313.40) rotate(-45)">
<text x="0" y="0.00" font-size="6.45" text-anchor="end" fill="#2e2e2e" stroke="#2e2e2e" stroke-width="0.1">HeLa S3 - Rep #2</text>
</g>
<g transform="translate(123.90,313.40) rotate(-45)">
<text x="0" y="0.00" font-size="6.45" text-anchor="end" fill="#2e2e2e" stroke="#2e2e2e" stroke-width="0.1">Hep G2</text>
</g>
<g transform="translate(151.00,313.40) rotate(-45)">
<text x="0" y="0.00" font-size="6.45" text-anchor="end" fill="#2e2e2e" stroke="#2e2e2e" stroke-width="0.1">HUV-EC-C - Rep #3</text>
</g>
<g transform="translate(178.00,313.40) rotate(-45)">
<text x="0" y="0.00" font-size="6.45" text-anchor="end" fill="#2e2e2e" stroke="#2e2e2e" stroke-width="0.1">HUV-EC-C - Rep #4</text>
</g>
<g transform="translate(204.90,313.40) rotate(-45)">
<text x="0" y="0.00" font-size="6.45" text-anchor="end" fill="#2e2e2e" stroke="#2e2e2e" stroke-width="0.1">K562</text>
</g>
<text x="134.60" y="365.00" font-size="6.35" text-anchor="middle" fill="#111111" font-weight="normal" stroke="#111111" stroke-width="0.1" >Cell-lines</text>
<g transform="translate(11.00,198.10) rotate(-90)">
<text x="0" y="0.00" font-size="6.3" text-anchor="middle" fill="#111111" stroke="#111111" stroke-width="0.1">Transcripts Per Million (TPM)</text>
</g>
<g transform="translate(17.80,193.90) rotate(-90)">
<text x="0" y="0.00" font-size="5.88" text-anchor="middle" fill="#111111" stroke="#111111" stroke-width="0.1">(based on uniquely-mapped reads; log10)</text>
</g>
<text x="236.0" y="7.9" font-size="11.5" font-weight="bold" fill="#000">c</text>
<line x1="312.80" y1="5.6" x2="312.80" y2="294" stroke="#cccccc" stroke-width="0.8" stroke-dasharray="4.2 2.9"/>
<line x1="355.40" y1="5.6" x2="355.40" y2="294" stroke="#cccccc" stroke-width="0.8" stroke-dasharray="4.2 2.9"/>
<line x1="398.00" y1="5.6" x2="398.00" y2="294" stroke="#cccccc" stroke-width="0.8" stroke-dasharray="4.2 2.9"/>
<line x1="440.60" y1="5.6" x2="440.60" y2="294" stroke="#cccccc" stroke-width="0.8" stroke-dasharray="4.2 2.9"/>
<line x1="312.8" y1="18.30" x2="448" y2="18.30" stroke="#d0d0d0" stroke-width="0.8" stroke-dasharray="1.2 2.08"/>
<line x1="312.8" y1="37.34" x2="448" y2="37.34" stroke="#d0d0d0" stroke-width="0.8" stroke-dasharray="1.2 2.08"/>
<line x1="312.8" y1="56.38" x2="448" y2="56.38" stroke="#d0d0d0" stroke-width="0.8" stroke-dasharray="1.2 2.08"/>
<line x1="312.8" y1="75.42" x2="448" y2="75.42" stroke="#d0d0d0" stroke-width="0.8" stroke-dasharray="1.2 2.08"/>
<line x1="312.8" y1="94.46" x2="448" y2="94.46" stroke="#d0d0d0" stroke-width="0.8" stroke-dasharray="1.2 2.08"/>
<line x1="312.8" y1="113.50" x2="448" y2="113.50" stroke="#d0d0d0" stroke-width="0.8" stroke-dasharray="1.2 2.08"/>
<line x1="312.8" y1="132.54" x2="448" y2="132.54" stroke="#d0d0d0" stroke-width="0.8" stroke-dasharray="1.2 2.08"/>
<line x1="312.8" y1="151.58" x2="448" y2="151.58" stroke="#d0d0d0" stroke-width="0.8" stroke-dasharray="1.2 2.08"/>
<line x1="312.8" y1="170.62" x2="448" y2="170.62" stroke="#d0d0d0" stroke-width="0.8" stroke-dasharray="1.2 2.08"/>
<line x1="312.8" y1="189.66" x2="448" y2="189.66" stroke="#d0d0d0" stroke-width="0.8" stroke-dasharray="1.2 2.08"/>
<line x1="312.8" y1="208.70" x2="448" y2="208.70" stroke="#d0d0d0" stroke-width="0.8" stroke-dasharray="1.2 2.08"/>
<line x1="312.8" y1="227.74" x2="448" y2="227.74" stroke="#d0d0d0" stroke-width="0.8" stroke-dasharray="1.2 2.08"/>
<line x1="312.8" y1="246.78" x2="448" y2="246.78" stroke="#d0d0d0" stroke-width="0.8" stroke-dasharray="1.2 2.08"/>
<line x1="312.8" y1="265.82" x2="448" y2="265.82" stroke="#d0d0d0" stroke-width="0.8" stroke-dasharray="1.2 2.08"/>
<line x1="312.8" y1="284.86" x2="448" y2="284.86" stroke="#d0d0d0" stroke-width="0.8" stroke-dasharray="1.2 2.08"/>
<rect x="312.8" y="26.50" width="117.70" height="2.04" fill="#d4d0cc"/>
<rect x="312.8" y="45.54" width="62.60" height="2.04" fill="#d4d0cc"/>
<rect x="312.8" y="64.58" width="58.50" height="2.04" fill="#d4d0cc"/>
<rect x="312.8" y="83.62" width="54.70" height="2.04" fill="#d4d0cc"/>
<rect x="312.8" y="102.66" width="52.60" height="2.04" fill="#d4d0cc"/>
<rect x="312.8" y="121.70" width="51.60" height="2.04" fill="#d4d0cc"/>
<rect x="312.8" y="140.74" width="50.50" height="2.04" fill="#d4d0cc"/>
<rect x="312.8" y="159.78" width="48.50" height="2.04" fill="#d4d0cc"/>
<rect x="312.8" y="178.82" width="47.60" height="2.04" fill="#d4d0cc"/>
<rect x="312.8" y="197.86" width="45.60" height="2.04" fill="#d4d0cc"/>
<rect x="312.8" y="216.90" width="44.70" height="2.04" fill="#d4d0cc"/>
<rect x="312.8" y="235.94" width="44.40" height="2.04" fill="#d4d0cc"/>
<rect x="312.8" y="254.98" width="43.10" height="2.04" fill="#d4d0cc"/>
<rect x="312.8" y="274.02" width="42.80" height="2.04" fill="#d4d0cc"/>
<rect x="313.15" y="9.55" width="117.45" height="16.90" fill="#00518a" stroke="#111a24" stroke-width="0.75"/>
<text x="432.00" y="20.00" font-size="5.6" text-anchor="start" fill="#333" font-weight="bold" stroke="#333" stroke-width="0.1" >5.5%</text>
<text x="302.60" y="16.70" font-size="6.1" text-anchor="end" fill="#2e2e2e" font-weight="normal" stroke="#2e2e2e" stroke-width="0.1" >POLR2A</text>
<text x="302.60" y="23.20" font-size="6.1" text-anchor="end" fill="#2e2e2e" font-weight="normal" stroke="#2e2e2e" stroke-width="0.1" >(165461 peaks)</text>
<line x1="304.6" y1="18.00" x2="307" y2="18.00" stroke="#333333" stroke-width="0.8"/>
<rect x="313.15" y="28.59" width="117.45" height="16.90" fill="#00518a" stroke="#111a24" stroke-width="0.75"/>
<text x="432.00" y="39.04" font-size="5.6" text-anchor="start" fill="#333" font-weight="bold" stroke="#333" stroke-width="0.1" >5.5%</text>
<text x="302.60" y="35.74" font-size="6.1" text-anchor="end" fill="#2e2e2e" font-weight="normal" stroke="#2e2e2e" stroke-width="0.1" >CTCF</text>
<text x="302.60" y="42.24" font-size="6.1" text-anchor="end" fill="#2e2e2e" font-weight="normal" stroke="#2e2e2e" stroke-width="0.1" >(231761 peaks)</text>
<line x1="304.6" y1="37.04" x2="307" y2="37.04" stroke="#333333" stroke-width="0.8"/>
<rect x="313.15" y="47.63" width="62.35" height="16.90" fill="#00518a" stroke="#111a24" stroke-width="0.75"/>
<text x="376.90" y="58.08" font-size="5.6" text-anchor="start" fill="#333" font-weight="bold" stroke="#333" stroke-width="0.1" >2.9%</text>
<text x="302.60" y="54.78" font-size="6.1" text-anchor="end" fill="#2e2e2e" font-weight="normal" stroke="#2e2e2e" stroke-width="0.1" >ZBTB33</text>
<text x="302.60" y="61.28" font-size="6.1" text-anchor="end" fill="#2e2e2e" font-weight="normal" stroke="#2e2e2e" stroke-width="0.1" >(92783 peaks)</text>
<line x1="304.6" y1="56.08" x2="307" y2="56.08" stroke="#333333" stroke-width="0.8"/>
<rect x="313.15" y="66.67" width="58.25" height="16.90" fill="#00518a" stroke="#111a24" stroke-width="0.75"/>
<text x="372.80" y="77.12" font-size="5.6" text-anchor="start" fill="#333" font-weight="bold" stroke="#333" stroke-width="0.1" >2.7%</text>
<text x="302.60" y="73.82" font-size="6.1" text-anchor="end" fill="#2e2e2e" font-weight="normal" stroke="#2e2e2e" stroke-width="0.1" >IKZF1</text>
<text x="302.60" y="80.32" font-size="6.1" text-anchor="end" fill="#2e2e2e" font-weight="normal" stroke="#2e2e2e" stroke-width="0.1" >(114157 peaks)</text>
<line x1="304.6" y1="75.12" x2="307" y2="75.12" stroke="#333333" stroke-width="0.8"/>
<rect x="313.15" y="85.71" width="54.45" height="16.90" fill="#00518a" stroke="#111a24" stroke-width="0.75"/>
<text x="369.00" y="96.16" font-size="5.6" text-anchor="start" fill="#333" font-weight="bold" stroke="#333" stroke-width="0.1" >2.5%</text>
<text x="302.60" y="92.86" font-size="6.1" text-anchor="end" fill="#2e2e2e" font-weight="normal" stroke="#2e2e2e" stroke-width="0.1" >EP300</text>
<text x="302.60" y="99.36" font-size="6.1" text-anchor="end" fill="#2e2e2e" font-weight="normal" stroke="#2e2e2e" stroke-width="0.1" >(188216 peaks)</text>
<line x1="304.6" y1="94.16" x2="307" y2="94.16" stroke="#333333" stroke-width="0.8"/>
<rect x="313.15" y="104.75" width="52.35" height="16.90" fill="#00518a" stroke="#111a24" stroke-width="0.75"/>
<text x="366.90" y="115.20" font-size="5.6" text-anchor="start" fill="#333" font-weight="bold" stroke="#333" stroke-width="0.1" >2.4%</text>
<text x="302.60" y="111.90" font-size="6.1" text-anchor="end" fill="#2e2e2e" font-weight="normal" stroke="#2e2e2e" stroke-width="0.1" >SP1</text>
<text x="302.60" y="118.40" font-size="6.1" text-anchor="end" fill="#2e2e2e" font-weight="normal" stroke="#2e2e2e" stroke-width="0.1" >(118440 peaks)</text>
<line x1="304.6" y1="113.20" x2="307" y2="113.20" stroke="#333333" stroke-width="0.8"/>
<rect x="313.15" y="123.79" width="51.35" height="16.90" fill="#00518a" stroke="#111a24" stroke-width="0.75"/>
<text x="365.90" y="134.24" font-size="5.6" text-anchor="start" fill="#333" font-weight="bold" stroke="#333" stroke-width="0.1" >2.4%</text>
<text x="302.60" y="130.94" font-size="6.1" text-anchor="end" fill="#2e2e2e" font-weight="normal" stroke="#2e2e2e" stroke-width="0.1" >PKNOX1</text>
<text x="302.60" y="137.44" font-size="6.1" text-anchor="end" fill="#2e2e2e" font-weight="normal" stroke="#2e2e2e" stroke-width="0.1" >(112737 peaks)</text>
<line x1="304.6" y1="132.24" x2="307" y2="132.24" stroke="#333333" stroke-width="0.8"/>
<rect x="313.15" y="142.83" width="50.25" height="16.90" fill="#00518a" stroke="#111a24" stroke-width="0.75"/>
<text x="364.80" y="153.28" font-size="5.6" text-anchor="start" fill="#333" font-weight="bold" stroke="#333" stroke-width="0.1" >2.4%</text>
<text x="302.60" y="149.98" font-size="6.1" text-anchor="end" fill="#2e2e2e" font-weight="normal" stroke="#2e2e2e" stroke-width="0.1" >MNT</text>
<text x="302.60" y="156.48" font-size="6.1" text-anchor="end" fill="#2e2e2e" font-weight="normal" stroke="#2e2e2e" stroke-width="0.1" >(80522 peaks)</text>
<line x1="304.6" y1="151.28" x2="307" y2="151.28" stroke="#333333" stroke-width="0.8"/>
<rect x="313.15" y="161.87" width="48.25" height="16.90" fill="#00518a" stroke="#111a24" stroke-width="0.75"/>
<text x="362.80" y="172.32" font-size="5.6" text-anchor="start" fill="#333" font-weight="bold" stroke="#333" stroke-width="0.1" >2.3%</text>
<text x="302.60" y="169.02" font-size="6.1" text-anchor="end" fill="#2e2e2e" font-weight="normal" stroke="#2e2e2e" stroke-width="0.1" >JUND</text>
<text x="302.60" y="175.52" font-size="6.1" text-anchor="end" fill="#2e2e2e" font-weight="normal" stroke="#2e2e2e" stroke-width="0.1" >(165241 peaks)</text>
<line x1="304.6" y1="170.32" x2="307" y2="170.32" stroke="#333333" stroke-width="0.8"/>
<rect x="313.15" y="180.91" width="47.35" height="16.90" fill="#00518a" stroke="#111a24" stroke-width="0.75"/>
<text x="361.90" y="191.36" font-size="5.6" text-anchor="start" fill="#333" font-weight="bold" stroke="#333" stroke-width="0.1" >2.2%</text>
<text x="302.60" y="188.06" font-size="6.1" text-anchor="end" fill="#2e2e2e" font-weight="normal" stroke="#2e2e2e" stroke-width="0.1" >ATF7</text>
<text x="302.60" y="194.56" font-size="6.1" text-anchor="end" fill="#2e2e2e" font-weight="normal" stroke="#2e2e2e" stroke-width="0.1" >(104646 peaks)</text>
<line x1="304.6" y1="189.36" x2="307" y2="189.36" stroke="#333333" stroke-width="0.8"/>
<rect x="313.15" y="199.95" width="45.35" height="16.90" fill="#00518a" stroke="#111a24" stroke-width="0.75"/>
<text x="359.90" y="210.40" font-size="5.6" text-anchor="start" fill="#333" font-weight="bold" stroke="#333" stroke-width="0.1" >2.1%</text>
<text x="302.60" y="207.10" font-size="6.1" text-anchor="end" fill="#2e2e2e" font-weight="normal" stroke="#2e2e2e" stroke-width="0.1" >MAFK</text>
<text x="302.60" y="213.60" font-size="6.1" text-anchor="end" fill="#2e2e2e" font-weight="normal" stroke="#2e2e2e" stroke-width="0.1" >(121201 peaks)</text>
<line x1="304.6" y1="208.40" x2="307" y2="208.40" stroke="#333333" stroke-width="0.8"/>
<rect x="313.15" y="218.99" width="44.45" height="16.90" fill="#00518a" stroke="#111a24" stroke-width="0.75"/>
<text x="359.00" y="229.44" font-size="5.6" text-anchor="start" fill="#333" font-weight="bold" stroke="#333" stroke-width="0.1" >2.1%</text>
<text x="302.60" y="226.14" font-size="6.1" text-anchor="end" fill="#2e2e2e" font-weight="normal" stroke="#2e2e2e" stroke-width="0.1" >RAD21</text>
<text x="302.60" y="232.64" font-size="6.1" text-anchor="end" fill="#2e2e2e" font-weight="normal" stroke="#2e2e2e" stroke-width="0.1" >(169343 peaks)</text>
<line x1="304.6" y1="227.44" x2="307" y2="227.44" stroke="#333333" stroke-width="0.8"/>
<rect x="313.15" y="238.03" width="44.15" height="16.90" fill="#00518a" stroke="#111a24" stroke-width="0.75"/>
<text x="358.70" y="248.48" font-size="5.6" text-anchor="start" fill="#333" font-weight="bold" stroke="#333" stroke-width="0.1" >2.1%</text>
<text x="302.60" y="245.18" font-size="6.1" text-anchor="end" fill="#2e2e2e" font-weight="normal" stroke="#2e2e2e" stroke-width="0.1" >POLR2G</text>
<text x="302.60" y="251.68" font-size="6.1" text-anchor="end" fill="#2e2e2e" font-weight="normal" stroke="#2e2e2e" stroke-width="0.1" >(49526 peaks)</text>
<line x1="304.6" y1="246.48" x2="307" y2="246.48" stroke="#333333" stroke-width="0.8"/>
<rect x="313.15" y="257.07" width="42.85" height="16.90" fill="#00518a" stroke="#111a24" stroke-width="0.75"/>
<text x="357.40" y="267.52" font-size="5.6" text-anchor="start" fill="#333" font-weight="bold" stroke="#333" stroke-width="0.1" >2%</text>
<text x="302.60" y="264.22" font-size="6.1" text-anchor="end" fill="#2e2e2e" font-weight="normal" stroke="#2e2e2e" stroke-width="0.1" >NFATC3</text>
<text x="302.60" y="270.72" font-size="6.1" text-anchor="end" fill="#2e2e2e" font-weight="normal" stroke="#2e2e2e" stroke-width="0.1" >(32238 peaks)</text>
<line x1="304.6" y1="265.52" x2="307" y2="265.52" stroke="#333333" stroke-width="0.8"/>
<rect x="313.15" y="276.11" width="42.55" height="16.90" fill="#00518a" stroke="#111a24" stroke-width="0.75"/>
<text x="357.10" y="286.56" font-size="5.6" text-anchor="start" fill="#333" font-weight="bold" stroke="#333" stroke-width="0.1" >2%</text>
<text x="302.60" y="283.26" font-size="6.1" text-anchor="end" fill="#2e2e2e" font-weight="normal" stroke="#2e2e2e" stroke-width="0.1" >ZNF316</text>
<text x="302.60" y="289.76" font-size="6.1" text-anchor="end" fill="#2e2e2e" font-weight="normal" stroke="#2e2e2e" stroke-width="0.1" >(97345 peaks)</text>
<line x1="304.6" y1="284.56" x2="307" y2="284.56" stroke="#333333" stroke-width="0.8"/>
<line x1="312.80" y1="294.5" x2="312.80" y2="296.8" stroke="#333333" stroke-width="0.8"/>
<text x="312.80" y="303.80" font-size="6.1" text-anchor="middle" fill="#2e2e2e" font-weight="normal" stroke="#2e2e2e" stroke-width="0.1" >0.0%</text>
<line x1="355.40" y1="294.5" x2="355.40" y2="296.8" stroke="#333333" stroke-width="0.8"/>
<text x="355.40" y="303.80" font-size="6.1" text-anchor="middle" fill="#2e2e2e" font-weight="normal" stroke="#2e2e2e" stroke-width="0.1" >2.0%</text>
<line x1="398.00" y1="294.5" x2="398.00" y2="296.8" stroke="#333333" stroke-width="0.8"/>
<text x="398.00" y="303.80" font-size="6.1" text-anchor="middle" fill="#2e2e2e" font-weight="normal" stroke="#2e2e2e" stroke-width="0.1" >4.0%</text>
<line x1="440.60" y1="294.5" x2="440.60" y2="296.8" stroke="#333333" stroke-width="0.8"/>
<text x="440.60" y="303.80" font-size="6.1" text-anchor="middle" fill="#2e2e2e" font-weight="normal" stroke="#2e2e2e" stroke-width="0.1" >6.0%</text>
<text x="378.60" y="313.30" font-size="6.35" text-anchor="middle" fill="#111111" font-weight="normal" stroke="#111111" stroke-width="0.1" >Rel. overlap of hCRISPR elements</text>
<text x="378.60" y="320.80" font-size="6.35" text-anchor="middle" fill="#111111" font-weight="normal" stroke="#111111" stroke-width="0.1" >with genomic binding sites</text>
<g transform="translate(250.20,151.20) rotate(-90)">
<text x="0" y="0.00" font-size="6.2" text-anchor="middle" fill="#111111" stroke="#111111" stroke-width="0.1">Transcription factors</text>
</g>
<g transform="translate(256.40,151.00) rotate(-90)">
<text x="0" y="0.00" font-size="6.3" text-anchor="middle" fill="#111111" stroke="#111111" stroke-width="0.1">(Top 15)</text>
</g>
<text x="451.0" y="8.5" font-size="11.5" font-weight="bold" fill="#000">d</text>
<line x1="498" y1="131.90" x2="556" y2="131.90" stroke="#d6d6d6" stroke-width="0.8" stroke-dasharray="3.5 3.35"/>
<line x1="498" y1="106.70" x2="556" y2="106.70" stroke="#d6d6d6" stroke-width="0.8" stroke-dasharray="3.5 3.35"/>
<line x1="498" y1="81.50" x2="556" y2="81.50" stroke="#d6d6d6" stroke-width="0.8" stroke-dasharray="3.5 3.35"/>
<line x1="498" y1="56.30" x2="556" y2="56.30" stroke="#d6d6d6" stroke-width="0.8" stroke-dasharray="3.5 3.35"/>
<line x1="498" y1="31.10" x2="556" y2="31.10" stroke="#d6d6d6" stroke-width="0.8" stroke-dasharray="3.5 3.35"/>
<line x1="498" y1="5.90" x2="556" y2="5.90" stroke="#d6d6d6" stroke-width="0.8" stroke-dasharray="3.5 3.35"/>
<text x="493.00" y="134.00" font-size="6.0" text-anchor="end" fill="#2e2e2e" font-weight="normal" stroke="#2e2e2e" stroke-width="0.1" >0.0%</text>
<line x1="495" y1="131.90" x2="498" y2="131.90" stroke="#333333" stroke-width="0.8"/>
<text x="493.00" y="108.80" font-size="6.0" text-anchor="end" fill="#2e2e2e" font-weight="normal" stroke="#2e2e2e" stroke-width="0.1" >5.0%</text>
<line x1="495" y1="106.70" x2="498" y2="106.70" stroke="#333333" stroke-width="0.8"/>
<text x="493.00" y="83.60" font-size="6.0" text-anchor="end" fill="#2e2e2e" font-weight="normal" stroke="#2e2e2e" stroke-width="0.1" >10.0%</text>
<line x1="495" y1="81.50" x2="498" y2="81.50" stroke="#333333" stroke-width="0.8"/>
<text x="493.00" y="58.40" font-size="6.0" text-anchor="end" fill="#2e2e2e" font-weight="normal" stroke="#2e2e2e" stroke-width="0.1" >15.0%</text>
<line x1="495" y1="56.30" x2="498" y2="56.30" stroke="#333333" stroke-width="0.8"/>
<text x="493.00" y="33.20" font-size="6.0" text-anchor="end" fill="#2e2e2e" font-weight="normal" stroke="#2e2e2e" stroke-width="0.1" >20.0%</text>
<line x1="495" y1="31.10" x2="498" y2="31.10" stroke="#333333" stroke-width="0.8"/>
<text x="493.00" y="8.00" font-size="6.0" text-anchor="end" fill="#2e2e2e" font-weight="normal" stroke="#2e2e2e" stroke-width="0.1" >25.0%</text>
<line x1="495" y1="5.90" x2="498" y2="5.90" stroke="#333333" stroke-width="0.8"/>
<rect x="501.30" y="25.05" width="24.30" height="106.85" fill="#ec7788" stroke="#161616" stroke-width="1.0"/>
<rect x="528.20" y="127.87" width="24.20" height="4.03" fill="#ec7788" stroke="#161616" stroke-width="1.0"/>
<text x="513.40" y="20.10" font-size="5.8" text-anchor="middle" fill="#222" font-weight="bold" stroke="#222" stroke-width="0.1" >21.2%</text>
<text x="540.30" y="123.20" font-size="5.8" text-anchor="middle" fill="#222" font-weight="bold" stroke="#222" stroke-width="0.1" >0.8%</text>
<line x1="513.40" y1="138.2" x2="513.40" y2="140.4" stroke="#333333" stroke-width="0.8"/>
<line x1="540.40" y1="138.2" x2="540.40" y2="140.4" stroke="#333333" stroke-width="0.8"/>
<g transform="translate(516.30,146.00) rotate(-45)">
<text x="0" y="0.00" font-size="6.45" text-anchor="end" fill="#2e2e2e" stroke="#2e2e2e" stroke-width="0.1">DNAse clusters</text>
<text x="0" y="7.35" font-size="6.45" text-anchor="end" fill="#2e2e2e" stroke="#2e2e2e" stroke-width="0.1">(2074555 peaks)</text>
</g>
<g transform="translate(543.30,146.20) rotate(-45)">
<text x="0" y="0.00" font-size="6.45" text-anchor="end" fill="#2e2e2e" stroke="#2e2e2e" stroke-width="0.1">CpG islands</text>
<text x="0" y="7.35" font-size="6.45" text-anchor="end" fill="#2e2e2e" stroke="#2e2e2e" stroke-width="0.1">(27949 peaks)</text>
</g>
<g transform="translate(462.60,70.20) rotate(-90)">
<text x="0" y="0.00" font-size="6.35" text-anchor="middle" fill="#111111" stroke="#111111" stroke-width="0.1">Rel. overlap of hCRISPR elements</text>
</g>
<g transform="translate(469.40,70.20) rotate(-90)">
<text x="0" y="0.00" font-size="6.35" text-anchor="middle" fill="#111111" stroke="#111111" stroke-width="0.1">with genomic locations</text>
</g>
<text x="450.6" y="192.7" font-size="11.5" font-weight="bold" fill="#000">e</text>
<line x1="496.4" y1="316.40" x2="685" y2="316.40" stroke="#d6d6d6" stroke-width="0.8" stroke-dasharray="3.5 3.35"/>
<line x1="496.4" y1="276.32" x2="685" y2="276.32" stroke="#d6d6d6" stroke-width="0.8" stroke-dasharray="3.5 3.35"/>
<line x1="496.4" y1="236.24" x2="685" y2="236.24" stroke="#d6d6d6" stroke-width="0.8" stroke-dasharray="3.5 3.35"/>
<line x1="496.4" y1="196.16" x2="685" y2="196.16" stroke="#d6d6d6" stroke-width="0.8" stroke-dasharray="3.5 3.35"/>
<text x="492.20" y="318.46" font-size="5.9" text-anchor="end" fill="#2e2e2e" font-weight="normal" stroke="#2e2e2e" stroke-width="0.1" >0</text>
<line x1="494.5" y1="316.40" x2="497.5" y2="316.40" stroke="#333333" stroke-width="0.8"/>
<text x="492.20" y="278.38" font-size="5.9" text-anchor="end" fill="#2e2e2e" font-weight="normal" stroke="#2e2e2e" stroke-width="0.1" >2000</text>
<line x1="494.5" y1="276.32" x2="497.5" y2="276.32" stroke="#333333" stroke-width="0.8"/>
<text x="492.20" y="238.30" font-size="5.9" text-anchor="end" fill="#2e2e2e" font-weight="normal" stroke="#2e2e2e" stroke-width="0.1" >4000</text>
<line x1="494.5" y1="236.24" x2="497.5" y2="236.24" stroke="#333333" stroke-width="0.8"/>
<text x="492.20" y="198.22" font-size="5.9" text-anchor="end" fill="#2e2e2e" font-weight="normal" stroke="#2e2e2e" stroke-width="0.1" >6000</text>
<line x1="494.5" y1="196.16" x2="497.5" y2="196.16" stroke="#333333" stroke-width="0.8"/>
<rect x="500.80" y="195.88" width="27.40" height="120.52" fill="#ec7788" stroke="#161616" stroke-width="1.0"/>
<text x="514.50" y="191.48" font-size="5.5" text-anchor="middle" fill="#222" font-weight="normal" stroke="#222" stroke-width="0.1" >6014</text>
<line x1="514.50" y1="323.2" x2="514.50" y2="325.6" stroke="#333333" stroke-width="0.8"/>
<rect x="531.30" y="288.04" width="27.40" height="28.36" fill="#ec7788" stroke="#161616" stroke-width="1.0"/>
<text x="545.00" y="283.64" font-size="5.5" text-anchor="middle" fill="#222" font-weight="normal" stroke="#222" stroke-width="0.1" >1415</text>
<line x1="545.00" y1="323.2" x2="545.00" y2="325.6" stroke="#333333" stroke-width="0.8"/>
<rect x="561.70" y="301.07" width="27.40" height="15.33" fill="#ec7788" stroke="#161616" stroke-width="1.0"/>
<text x="575.40" y="296.67" font-size="5.5" text-anchor="middle" fill="#222" font-weight="normal" stroke="#222" stroke-width="0.1" >765</text>
<line x1="575.40" y1="323.2" x2="575.40" y2="325.6" stroke="#333333" stroke-width="0.8"/>
<rect x="592.50" y="310.73" width="27.40" height="5.67" fill="#ec7788" stroke="#161616" stroke-width="1.0"/>
<text x="606.20" y="306.33" font-size="5.5" text-anchor="middle" fill="#222" font-weight="normal" stroke="#222" stroke-width="0.1" >283</text>
<line x1="606.20" y1="323.2" x2="606.20" y2="325.6" stroke="#333333" stroke-width="0.8"/>
<rect x="622.70" y="310.81" width="27.40" height="5.59" fill="#ec7788" stroke="#161616" stroke-width="1.0"/>
<text x="636.40" y="306.41" font-size="5.5" text-anchor="middle" fill="#222" font-weight="normal" stroke="#222" stroke-width="0.1" >279</text>
<line x1="636.40" y1="323.2" x2="636.40" y2="325.6" stroke="#333333" stroke-width="0.8"/>
<rect x="653.10" y="311.67" width="27.40" height="4.73" fill="#ec7788" stroke="#161616" stroke-width="1.0"/>
<text x="666.80" y="307.27" font-size="5.5" text-anchor="middle" fill="#222" font-weight="normal" stroke="#222" stroke-width="0.1" >236</text>
<line x1="666.80" y1="323.2" x2="666.80" y2="325.6" stroke="#333333" stroke-width="0.8"/>
<g transform="translate(516.10,330.80) rotate(-45)">
<text x="0" y="0.00" font-size="5.7" text-anchor="end" fill="#2e2e2e" stroke="#2e2e2e" stroke-width="0.1">lncRNA</text>
</g>
<g transform="translate(546.60,330.80) rotate(-45)">
<text x="0" y="0.00" font-size="5.7" text-anchor="end" fill="#2e2e2e" stroke="#2e2e2e" stroke-width="0.1">lncRNA &amp; piRNA</text>
</g>
<g transform="translate(577.00,330.80) rotate(-45)">
<text x="0" y="0.00" font-size="5.7" text-anchor="end" fill="#2e2e2e" stroke="#2e2e2e" stroke-width="0.1">piRNA</text>
</g>
<g transform="translate(605.90,333.60) rotate(-45)">
<text x="0" y="-4.57" font-size="5.8" text-anchor="end" fill="#2e2e2e" stroke="#2e2e2e" stroke-width="0.1">Multiple RNA Classes (all)</text>
<text x="0" y="2.80" font-size="5.8" text-anchor="end" fill="#2e2e2e" stroke="#2e2e2e" stroke-width="0.1">with &lt;100 overlapping</text>
<text x="0" y="10.17" font-size="5.8" text-anchor="end" fill="#2e2e2e" stroke="#2e2e2e" stroke-width="0.1">CRISPR per combination</text>
</g>
<g transform="translate(638.00,330.80) rotate(-45)">
<text x="0" y="0.00" font-size="5.7" text-anchor="end" fill="#2e2e2e" stroke="#2e2e2e" stroke-width="0.1">lncRNA &amp; SRP-RNA</text>
</g>
<g transform="translate(668.40,330.80) rotate(-45)">
<text x="0" y="0.00" font-size="5.7" text-anchor="end" fill="#2e2e2e" stroke="#2e2e2e" stroke-width="0.1">SRP-RNA</text>
</g>
<g transform="translate(470.00,251.00) rotate(-90)">
<text x="0" y="0.00" font-size="6.35" text-anchor="middle" fill="#111111" stroke="#111111" stroke-width="0.1">No. overlapping hCRISPR elements</text>
</g>
</svg></body></html>
